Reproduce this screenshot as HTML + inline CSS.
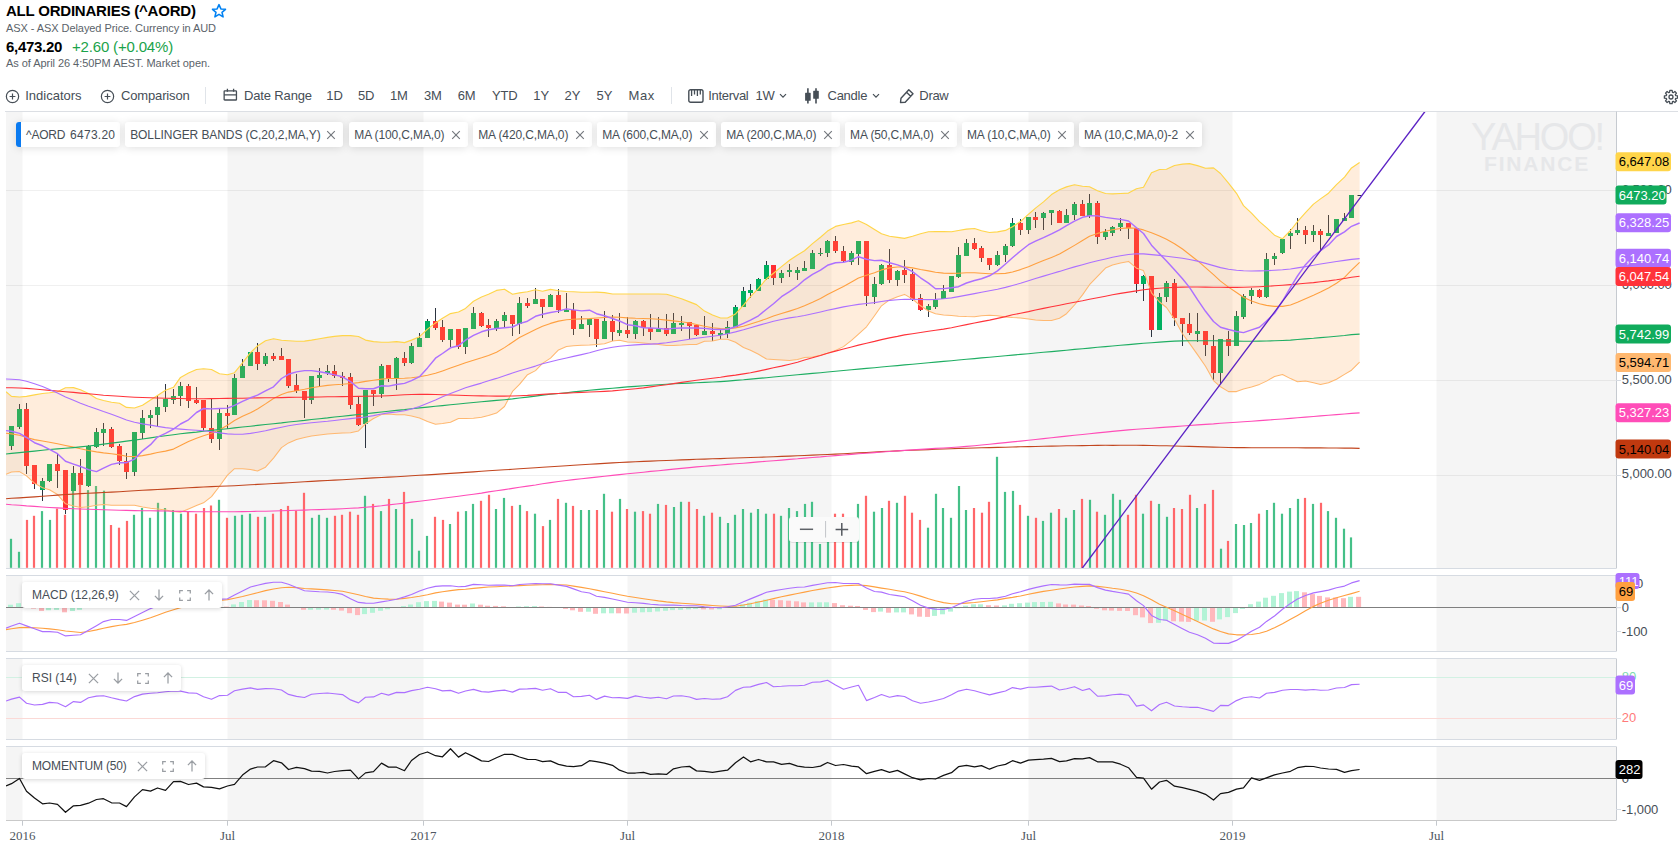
<!DOCTYPE html><html><head><meta charset="utf-8"><title>chart</title><style>
*{box-sizing:border-box}
html,body{margin:0;padding:0;background:#fff}
body{width:1678px;height:868px;position:relative;overflow:hidden;font-family:"Liberation Sans",sans-serif;color:#464e56}
.abs{position:absolute;white-space:nowrap;line-height:1}
.t{font-size:13px;color:#464e56;letter-spacing:-0.15px}
.chip{position:absolute;top:122px;height:25px;background:#fff;border-radius:3px;box-shadow:0 1px 9px rgba(0,0,0,.13);font-size:12px;line-height:26.5px;color:#464e56;white-space:nowrap;padding-left:5px;letter-spacing:-0.13px}
.chip svg{position:absolute;top:9px}
.lbl{position:absolute;left:22px;height:26px;background:#fff;border-radius:3px;box-shadow:0 1px 4px rgba(0,0,0,.16);font-size:12px;line-height:26px;color:#464e56;padding-left:10px;white-space:nowrap}
.lbl svg{position:absolute}
</style></head><body>
<div class="abs" style="left:6px;top:2.5px;font-size:15px;font-weight:bold;color:#000;letter-spacing:-0.21px">ALL ORDINARIES (^AORD)</div>
<svg class="abs" style="left:211px;top:3px" width="16" height="16" viewBox="0 0 16 16"><path d="M8,1.6 L9.9,5.9 L14.5,6.3 L11,9.3 L12.1,13.9 L8,11.4 L3.9,13.9 L5,9.3 L1.5,6.3 L6.1,5.9 Z" fill="none" stroke="#0081f2" stroke-width="1.55" stroke-linejoin="round"/></svg>
<div class="abs" style="left:6px;top:23px;font-size:11px;color:#5b636a;letter-spacing:-0.07px">ASX - ASX Delayed Price. Currency in AUD</div>
<div class="abs" style="left:6px;top:38.6px;font-size:15px;font-weight:bold;color:#000;letter-spacing:-0.3px">6,473.20</div>
<div class="abs" style="left:72px;top:38.6px;font-size:15px;color:#1aa34a;letter-spacing:-0.17px">+2.60 (+0.04%)</div>
<div class="abs" style="left:6px;top:58px;font-size:11px;color:#5b636a;letter-spacing:-0.05px">As of April 26 4:50PM AEST. Market open.</div>
<svg class="abs" style="left:5px;top:88.7px" width="15" height="15" viewBox="0 0 15 15"><circle cx="7.5" cy="7.5" r="6.15" fill="none" stroke="#464e56" stroke-width="1.2"/><path d="M4.6,7.5 H10.4 M7.5,4.6 V10.4" stroke="#464e56" stroke-width="1.2"/></svg>
<div class="abs t" style="left:25.2px;top:88.6px;letter-spacing:0">Indicators</div>
<svg class="abs" style="left:100px;top:88.7px" width="15" height="15" viewBox="0 0 15 15"><circle cx="7.5" cy="7.5" r="6.15" fill="none" stroke="#464e56" stroke-width="1.2"/><path d="M4.6,7.5 H10.4 M7.5,4.6 V10.4" stroke="#464e56" stroke-width="1.2"/></svg>
<div class="abs t" style="left:121px;top:88.6px">Comparison</div>
<div class="abs" style="left:205px;top:87px;width:1px;height:17px;background:#e0e4e9"></div>
<svg class="abs" style="left:223px;top:88px" width="15" height="15" viewBox="0 0 15 15"><rect x="1.15" y="2.8" width="12.3" height="9.2" rx="0.6" fill="none" stroke="#464e56" stroke-width="1.3"/><path d="M1.15,6.8 H13.45 M4.4,0.8 V3.7 M10.6,0.8 V3.7" stroke="#464e56" stroke-width="1.3"/></svg>
<div class="abs t" style="left:244px;top:88.6px">Date Range</div>
<div class="abs t" style="left:326.3px;top:88.6px">1D</div>
<div class="abs t" style="left:358px;top:88.6px">5D</div>
<div class="abs t" style="left:390px;top:88.6px">1M</div>
<div class="abs t" style="left:424px;top:88.6px">3M</div>
<div class="abs t" style="left:457.7px;top:88.6px">6M</div>
<div class="abs t" style="left:492px;top:88.6px">YTD</div>
<div class="abs t" style="left:533.3px;top:88.6px">1Y</div>
<div class="abs t" style="left:564.6px;top:88.6px">2Y</div>
<div class="abs t" style="left:596.6px;top:88.6px">5Y</div>
<div class="abs t" style="left:628.5px;top:88.6px;letter-spacing:0.6px">Max</div>
<div class="abs" style="left:671px;top:87px;width:1px;height:17px;background:#e0e4e9"></div>
<svg class="abs" style="left:688px;top:88.5px" width="16" height="15" viewBox="0 0 16 15"><rect x="0.8" y="0.8" width="14.2" height="12.4" rx="1.8" fill="none" stroke="#464e56" stroke-width="1.4"/><path d="M3.6,1 V6.9 M6.5,1 V5.4 M9.4,1 V6.9 M12.3,1 V5.4" stroke="#464e56" stroke-width="1.3"/></svg>
<div class="abs t" style="left:708.2px;top:88.6px;letter-spacing:-0.3px">Interval</div>
<div class="abs t" style="left:755.5px;top:88.6px">1W</div>
<svg class="abs" style="left:779px;top:93.2px" width="8" height="6" viewBox="0 0 8 6"><path d="M1,1.2 L4,4.2 L7,1.2" fill="none" stroke="#464e56" stroke-width="1.2"/></svg>
<svg class="abs" style="left:805px;top:87px" width="15" height="17" viewBox="0 0 15 17"><path d="M2.9,1.2 V16.6 M11,1.2 V16.6" stroke="#464e56" stroke-width="1.6"/><rect x="0.1" y="5.8" width="5.6" height="8" rx="0.6" fill="#464e56"/><rect x="8.2" y="3.8" width="5.6" height="8" rx="0.6" fill="#464e56"/></svg>
<div class="abs t" style="left:827.5px;top:88.6px;letter-spacing:-0.25px">Candle</div>
<svg class="abs" style="left:871.7px;top:93.2px" width="8" height="6" viewBox="0 0 8 6"><path d="M1,1.2 L4,4.2 L7,1.2" fill="none" stroke="#464e56" stroke-width="1.2"/></svg>
<svg class="abs" style="left:899px;top:88px" width="16" height="16" viewBox="0 0 16 16"><path d="M1.5,14.5 L2,10.2 L9.8,1.8 L14,5.8 L6.2,14.2 Z M7.5,4.3 L11.7,8.3" fill="none" stroke="#464e56" stroke-width="1.4" stroke-linejoin="round"/></svg>
<div class="abs t" style="left:919.3px;top:88.6px;letter-spacing:-0.3px">Draw</div>
<svg class="abs" style="left:1662.9px;top:88.7px" width="16" height="16" viewBox="0 0 16 16"><path d="M6.55,3.32 L6.87,1.40 L9.13,1.40 L9.45,3.32 L10.29,3.67 L11.87,2.53 L13.47,4.13 L12.33,5.71 L12.68,6.55 L14.60,6.87 L14.60,9.13 L12.68,9.45 L12.33,10.29 L13.47,11.87 L11.87,13.47 L10.29,12.33 L9.45,12.68 L9.13,14.60 L6.87,14.60 L6.55,12.68 L5.71,12.33 L4.13,13.47 L2.53,11.87 L3.67,10.29 L3.32,9.45 L1.40,9.13 L1.40,6.87 L3.32,6.55 L3.67,5.71 L2.53,4.13 L4.13,2.53 L5.71,3.67 Z" fill="none" stroke="#464e56" stroke-width="1.3" stroke-linejoin="round"/><circle cx="8" cy="8" r="2" fill="none" stroke="#464e56" stroke-width="1.3"/></svg>
<svg width="1678" height="868" viewBox="0 0 1678 868" style="position:absolute;left:0;top:0">
<defs>
<clipPath id="cm"><rect x="6" y="111.5" width="1610" height="457"/></clipPath>
<clipPath id="c1"><rect x="6" y="575.5" width="1610" height="76"/></clipPath>
<clipPath id="c2"><rect x="6" y="658.5" width="1610" height="81"/></clipPath>
<clipPath id="c3"><rect x="6" y="746.5" width="1610" height="74"/></clipPath>
</defs>
<rect x="6" y="111.5" width="16.5" height="457.0" fill="#f5f5f5"/>
<rect x="227.5" y="111.5" width="196.0" height="457.0" fill="#f5f5f5"/>
<rect x="627.5" y="111.5" width="204.0" height="457.0" fill="#f5f5f5"/>
<rect x="1028.5" y="111.5" width="204.0" height="457.0" fill="#f5f5f5"/>
<rect x="1436.5" y="111.5" width="179.5" height="457.0" fill="#f5f5f5"/>
<rect x="6" y="575.5" width="16.5" height="76.0" fill="#f5f5f5"/>
<rect x="227.5" y="575.5" width="196.0" height="76.0" fill="#f5f5f5"/>
<rect x="627.5" y="575.5" width="204.0" height="76.0" fill="#f5f5f5"/>
<rect x="1028.5" y="575.5" width="204.0" height="76.0" fill="#f5f5f5"/>
<rect x="1436.5" y="575.5" width="179.5" height="76.0" fill="#f5f5f5"/>
<rect x="6" y="658.5" width="16.5" height="81.0" fill="#f5f5f5"/>
<rect x="227.5" y="658.5" width="196.0" height="81.0" fill="#f5f5f5"/>
<rect x="627.5" y="658.5" width="204.0" height="81.0" fill="#f5f5f5"/>
<rect x="1028.5" y="658.5" width="204.0" height="81.0" fill="#f5f5f5"/>
<rect x="1436.5" y="658.5" width="179.5" height="81.0" fill="#f5f5f5"/>
<rect x="6" y="746.5" width="16.5" height="74.0" fill="#f5f5f5"/>
<rect x="227.5" y="746.5" width="196.0" height="74.0" fill="#f5f5f5"/>
<rect x="627.5" y="746.5" width="204.0" height="74.0" fill="#f5f5f5"/>
<rect x="1028.5" y="746.5" width="204.0" height="74.0" fill="#f5f5f5"/>
<rect x="1436.5" y="746.5" width="179.5" height="74.0" fill="#f5f5f5"/>
<line x1="6" x2="1616" y1="190.5" y2="190.5" stroke="#000" stroke-opacity="0.06" stroke-width="1"/>
<line x1="6" x2="1616" y1="285.5" y2="285.5" stroke="#000" stroke-opacity="0.06" stroke-width="1"/>
<line x1="6" x2="1616" y1="380.5" y2="380.5" stroke="#000" stroke-opacity="0.06" stroke-width="1"/>
<line x1="6" x2="1616" y1="475.5" y2="475.5" stroke="#000" stroke-opacity="0.06" stroke-width="1"/>
<g clip-path="url(#cm)">
<rect x="11.0" y="426" width="1" height="24" fill="#2c3440"/>
<rect x="9.0" y="426" width="5" height="20" fill="#00b061"/>
<rect x="19.0" y="404" width="1" height="25" fill="#2c3440"/>
<rect x="17.0" y="409" width="5" height="18" fill="#00b061"/>
<rect x="26.0" y="403" width="1" height="71" fill="#2c3440"/>
<rect x="24.0" y="409" width="5" height="57" fill="#ff2d33"/>
<rect x="34.0" y="465" width="1" height="24" fill="#2c3440"/>
<rect x="32.0" y="465" width="5" height="19" fill="#ff2d33"/>
<rect x="42.0" y="478" width="1" height="23" fill="#2c3440"/>
<rect x="40.0" y="481" width="5" height="9" fill="#00b061"/>
<rect x="49.0" y="464" width="1" height="18" fill="#2c3440"/>
<rect x="47.0" y="464" width="5" height="17" fill="#00b061"/>
<rect x="57.0" y="453" width="1" height="35" fill="#2c3440"/>
<rect x="55.0" y="464" width="5" height="7" fill="#ff2d33"/>
<rect x="65.0" y="470" width="1" height="44" fill="#2c3440"/>
<rect x="63.0" y="470" width="5" height="40" fill="#ff2d33"/>
<rect x="73.0" y="466" width="1" height="43" fill="#2c3440"/>
<rect x="71.0" y="473" width="5" height="18" fill="#00b061"/>
<rect x="80.0" y="459" width="1" height="27" fill="#2c3440"/>
<rect x="78.0" y="473" width="5" height="12" fill="#ff2d33"/>
<rect x="88.0" y="445" width="1" height="42" fill="#2c3440"/>
<rect x="86.0" y="446" width="5" height="40" fill="#00b061"/>
<rect x="96.0" y="428" width="1" height="20" fill="#2c3440"/>
<rect x="94.0" y="432" width="5" height="15" fill="#00b061"/>
<rect x="103.0" y="423" width="1" height="23" fill="#2c3440"/>
<rect x="101.0" y="429" width="5" height="4" fill="#00b061"/>
<rect x="111.0" y="427" width="1" height="21" fill="#2c3440"/>
<rect x="109.0" y="429" width="5" height="18" fill="#ff2d33"/>
<rect x="119.0" y="444" width="1" height="21" fill="#2c3440"/>
<rect x="117.0" y="446" width="5" height="15" fill="#ff2d33"/>
<rect x="126.0" y="453" width="1" height="26" fill="#2c3440"/>
<rect x="124.0" y="461" width="5" height="11" fill="#ff2d33"/>
<rect x="134.0" y="432" width="1" height="44" fill="#2c3440"/>
<rect x="132.0" y="432" width="5" height="40" fill="#00b061"/>
<rect x="142.0" y="410" width="1" height="29" fill="#2c3440"/>
<rect x="140.0" y="418" width="5" height="15" fill="#00b061"/>
<rect x="150.0" y="410" width="1" height="18" fill="#2c3440"/>
<rect x="148.0" y="415" width="5" height="3" fill="#00b061"/>
<rect x="157.0" y="396" width="1" height="30" fill="#2c3440"/>
<rect x="155.0" y="407" width="5" height="8" fill="#00b061"/>
<rect x="165.0" y="384" width="1" height="28" fill="#2c3440"/>
<rect x="163.0" y="399" width="5" height="8" fill="#00b061"/>
<rect x="173.0" y="389" width="1" height="15" fill="#2c3440"/>
<rect x="171.0" y="396" width="5" height="4" fill="#00b061"/>
<rect x="180.0" y="382" width="1" height="24" fill="#2c3440"/>
<rect x="178.0" y="386" width="5" height="10" fill="#00b061"/>
<rect x="188.0" y="384" width="1" height="24" fill="#2c3440"/>
<rect x="186.0" y="386" width="5" height="15" fill="#ff2d33"/>
<rect x="196.0" y="387" width="1" height="17" fill="#2c3440"/>
<rect x="194.0" y="400" width="5" height="3" fill="#ff2d33"/>
<rect x="203.0" y="400" width="1" height="31" fill="#2c3440"/>
<rect x="201.0" y="400" width="5" height="28" fill="#ff2d33"/>
<rect x="211.0" y="398" width="1" height="45" fill="#2c3440"/>
<rect x="209.0" y="428" width="5" height="11" fill="#ff2d33"/>
<rect x="219.0" y="408" width="1" height="42" fill="#2c3440"/>
<rect x="217.0" y="413" width="5" height="26" fill="#00b061"/>
<rect x="227.0" y="405" width="1" height="24" fill="#2c3440"/>
<rect x="225.0" y="413" width="5" height="3" fill="#ff2d33"/>
<rect x="234.0" y="374" width="1" height="41" fill="#2c3440"/>
<rect x="232.0" y="378" width="5" height="37" fill="#00b061"/>
<rect x="242.0" y="359" width="1" height="19" fill="#2c3440"/>
<rect x="240.0" y="366" width="5" height="12" fill="#00b061"/>
<rect x="250.0" y="352" width="1" height="14" fill="#2c3440"/>
<rect x="248.0" y="352" width="5" height="14" fill="#00b061"/>
<rect x="257.0" y="343" width="1" height="27" fill="#2c3440"/>
<rect x="255.0" y="352" width="5" height="12" fill="#ff2d33"/>
<rect x="265.0" y="353" width="1" height="13" fill="#2c3440"/>
<rect x="263.0" y="356" width="5" height="8" fill="#00b061"/>
<rect x="273.0" y="353" width="1" height="8" fill="#2c3440"/>
<rect x="271.0" y="356" width="5" height="3" fill="#ff2d33"/>
<rect x="281.0" y="348" width="1" height="12" fill="#2c3440"/>
<rect x="279.0" y="356" width="5" height="4" fill="#ff2d33"/>
<rect x="288.0" y="359" width="1" height="29" fill="#2c3440"/>
<rect x="286.0" y="359" width="5" height="27" fill="#ff2d33"/>
<rect x="296.0" y="374" width="1" height="19" fill="#2c3440"/>
<rect x="294.0" y="385" width="5" height="6" fill="#ff2d33"/>
<rect x="304.0" y="391" width="1" height="27" fill="#2c3440"/>
<rect x="302.0" y="391" width="5" height="9" fill="#ff2d33"/>
<rect x="311.0" y="376" width="1" height="28" fill="#2c3440"/>
<rect x="309.0" y="376" width="5" height="24" fill="#00b061"/>
<rect x="319.0" y="368" width="1" height="18" fill="#2c3440"/>
<rect x="317.0" y="375" width="5" height="3" fill="#00b061"/>
<rect x="327.0" y="365" width="1" height="10" fill="#2c3440"/>
<rect x="325.0" y="371" width="5" height="2" fill="#00b061"/>
<rect x="334.0" y="365" width="1" height="13" fill="#2c3440"/>
<rect x="332.0" y="371" width="5" height="5" fill="#ff2d33"/>
<rect x="342.0" y="372" width="1" height="14" fill="#2c3440"/>
<rect x="340.0" y="376" width="5" height="2" fill="#ff2d33"/>
<rect x="350.0" y="373" width="1" height="36" fill="#2c3440"/>
<rect x="348.0" y="377" width="5" height="28" fill="#ff2d33"/>
<rect x="358.0" y="396" width="1" height="30" fill="#2c3440"/>
<rect x="356.0" y="404" width="5" height="21" fill="#ff2d33"/>
<rect x="365.0" y="390" width="1" height="58" fill="#2c3440"/>
<rect x="363.0" y="390" width="5" height="34" fill="#00b061"/>
<rect x="373.0" y="390" width="1" height="16" fill="#2c3440"/>
<rect x="371.0" y="390" width="5" height="4" fill="#ff2d33"/>
<rect x="381.0" y="364" width="1" height="34" fill="#2c3440"/>
<rect x="379.0" y="366" width="5" height="28" fill="#00b061"/>
<rect x="388.0" y="365" width="1" height="17" fill="#2c3440"/>
<rect x="386.0" y="365" width="5" height="14" fill="#ff2d33"/>
<rect x="396.0" y="357" width="1" height="33" fill="#2c3440"/>
<rect x="394.0" y="358" width="5" height="21" fill="#00b061"/>
<rect x="404.0" y="352" width="1" height="14" fill="#2c3440"/>
<rect x="402.0" y="358" width="5" height="5" fill="#ff2d33"/>
<rect x="411.0" y="343" width="1" height="21" fill="#2c3440"/>
<rect x="409.0" y="346" width="5" height="17" fill="#00b061"/>
<rect x="419.0" y="333" width="1" height="14" fill="#2c3440"/>
<rect x="417.0" y="338" width="5" height="9" fill="#00b061"/>
<rect x="427.0" y="319" width="1" height="19" fill="#2c3440"/>
<rect x="425.0" y="321" width="5" height="17" fill="#00b061"/>
<rect x="435.0" y="308" width="1" height="22" fill="#2c3440"/>
<rect x="433.0" y="321" width="5" height="7" fill="#ff2d33"/>
<rect x="442.0" y="320" width="1" height="22" fill="#2c3440"/>
<rect x="440.0" y="327" width="5" height="13" fill="#ff2d33"/>
<rect x="450.0" y="329" width="1" height="18" fill="#2c3440"/>
<rect x="448.0" y="329" width="5" height="11" fill="#00b061"/>
<rect x="458.0" y="329" width="1" height="20" fill="#2c3440"/>
<rect x="456.0" y="329" width="5" height="18" fill="#ff2d33"/>
<rect x="465.0" y="328" width="1" height="26" fill="#2c3440"/>
<rect x="463.0" y="328" width="5" height="19" fill="#00b061"/>
<rect x="473.0" y="307" width="1" height="22" fill="#2c3440"/>
<rect x="471.0" y="313" width="5" height="16" fill="#00b061"/>
<rect x="481.0" y="312" width="1" height="15" fill="#2c3440"/>
<rect x="479.0" y="313" width="5" height="13" fill="#ff2d33"/>
<rect x="488.0" y="319" width="1" height="18" fill="#2c3440"/>
<rect x="486.0" y="325" width="5" height="3" fill="#ff2d33"/>
<rect x="496.0" y="319" width="1" height="12" fill="#2c3440"/>
<rect x="494.0" y="321" width="5" height="7" fill="#00b061"/>
<rect x="504.0" y="312" width="1" height="16" fill="#2c3440"/>
<rect x="502.0" y="315" width="5" height="6" fill="#00b061"/>
<rect x="512.0" y="315" width="1" height="21" fill="#2c3440"/>
<rect x="510.0" y="315" width="5" height="9" fill="#ff2d33"/>
<rect x="519.0" y="297" width="1" height="37" fill="#2c3440"/>
<rect x="517.0" y="303" width="5" height="21" fill="#00b061"/>
<rect x="527.0" y="298" width="1" height="10" fill="#2c3440"/>
<rect x="525.0" y="303" width="5" height="3" fill="#ff2d33"/>
<rect x="535.0" y="288" width="1" height="16" fill="#2c3440"/>
<rect x="533.0" y="299" width="5" height="5" fill="#00b061"/>
<rect x="542.0" y="299" width="1" height="19" fill="#2c3440"/>
<rect x="540.0" y="299" width="5" height="8" fill="#ff2d33"/>
<rect x="550.0" y="294" width="1" height="13" fill="#2c3440"/>
<rect x="548.0" y="295" width="5" height="12" fill="#00b061"/>
<rect x="558.0" y="289" width="1" height="24" fill="#2c3440"/>
<rect x="556.0" y="295" width="5" height="15" fill="#ff2d33"/>
<rect x="566.0" y="293" width="1" height="19" fill="#2c3440"/>
<rect x="564.0" y="310" width="5" height="2" fill="#00b061"/>
<rect x="573.0" y="303" width="1" height="32" fill="#2c3440"/>
<rect x="571.0" y="310" width="5" height="19" fill="#ff2d33"/>
<rect x="581.0" y="316" width="1" height="13" fill="#2c3440"/>
<rect x="579.0" y="324" width="5" height="5" fill="#00b061"/>
<rect x="589.0" y="319" width="1" height="18" fill="#2c3440"/>
<rect x="587.0" y="319" width="5" height="6" fill="#00b061"/>
<rect x="596.0" y="319" width="1" height="28" fill="#2c3440"/>
<rect x="594.0" y="319" width="5" height="20" fill="#ff2d33"/>
<rect x="604.0" y="311" width="1" height="28" fill="#2c3440"/>
<rect x="602.0" y="321" width="5" height="18" fill="#00b061"/>
<rect x="612.0" y="315" width="1" height="26" fill="#2c3440"/>
<rect x="610.0" y="321" width="5" height="11" fill="#ff2d33"/>
<rect x="619.0" y="313" width="1" height="23" fill="#2c3440"/>
<rect x="617.0" y="330" width="5" height="3" fill="#00b061"/>
<rect x="627.0" y="317" width="1" height="21" fill="#2c3440"/>
<rect x="625.0" y="330" width="5" height="4" fill="#ff2d33"/>
<rect x="635.0" y="320" width="1" height="19" fill="#2c3440"/>
<rect x="633.0" y="321" width="5" height="13" fill="#00b061"/>
<rect x="643.0" y="320" width="1" height="16" fill="#2c3440"/>
<rect x="641.0" y="321" width="5" height="7" fill="#ff2d33"/>
<rect x="650.0" y="314" width="1" height="26" fill="#2c3440"/>
<rect x="648.0" y="328" width="5" height="4" fill="#ff2d33"/>
<rect x="658.0" y="317" width="1" height="15" fill="#2c3440"/>
<rect x="656.0" y="329" width="5" height="3" fill="#00b061"/>
<rect x="666.0" y="314" width="1" height="22" fill="#2c3440"/>
<rect x="664.0" y="328" width="5" height="6" fill="#ff2d33"/>
<rect x="673.0" y="313" width="1" height="21" fill="#2c3440"/>
<rect x="671.0" y="323" width="5" height="11" fill="#00b061"/>
<rect x="681.0" y="316" width="1" height="15" fill="#2c3440"/>
<rect x="679.0" y="323" width="5" height="2" fill="#00b061"/>
<rect x="689.0" y="322" width="1" height="17" fill="#2c3440"/>
<rect x="687.0" y="322" width="5" height="4" fill="#ff2d33"/>
<rect x="696.0" y="325" width="1" height="11" fill="#2c3440"/>
<rect x="694.0" y="325" width="5" height="10" fill="#ff2d33"/>
<rect x="704.0" y="316" width="1" height="19" fill="#2c3440"/>
<rect x="702.0" y="331" width="5" height="4" fill="#00b061"/>
<rect x="712.0" y="323" width="1" height="18" fill="#2c3440"/>
<rect x="710.0" y="331" width="5" height="3" fill="#ff2d33"/>
<rect x="720.0" y="330" width="1" height="9" fill="#2c3440"/>
<rect x="718.0" y="333" width="5" height="2" fill="#00b061"/>
<rect x="727.0" y="321" width="1" height="17" fill="#2c3440"/>
<rect x="725.0" y="327" width="5" height="7" fill="#00b061"/>
<rect x="735.0" y="305" width="1" height="22" fill="#2c3440"/>
<rect x="733.0" y="307" width="5" height="20" fill="#00b061"/>
<rect x="743.0" y="287" width="1" height="20" fill="#2c3440"/>
<rect x="741.0" y="291" width="5" height="16" fill="#00b061"/>
<rect x="750.0" y="284" width="1" height="14" fill="#2c3440"/>
<rect x="748.0" y="290" width="5" height="3" fill="#00b061"/>
<rect x="758.0" y="278" width="1" height="13" fill="#2c3440"/>
<rect x="756.0" y="279" width="5" height="12" fill="#00b061"/>
<rect x="766.0" y="261" width="1" height="19" fill="#2c3440"/>
<rect x="764.0" y="265" width="5" height="14" fill="#00b061"/>
<rect x="773.0" y="265" width="1" height="20" fill="#2c3440"/>
<rect x="771.0" y="265" width="5" height="13" fill="#ff2d33"/>
<rect x="781.0" y="270" width="1" height="13" fill="#2c3440"/>
<rect x="779.0" y="273" width="5" height="5" fill="#00b061"/>
<rect x="789.0" y="264" width="1" height="13" fill="#2c3440"/>
<rect x="787.0" y="270" width="5" height="2" fill="#00b061"/>
<rect x="797.0" y="267" width="1" height="13" fill="#2c3440"/>
<rect x="795.0" y="270" width="5" height="3" fill="#00b061"/>
<rect x="804.0" y="261" width="1" height="10" fill="#2c3440"/>
<rect x="802.0" y="268" width="5" height="3" fill="#00b061"/>
<rect x="812.0" y="250" width="1" height="19" fill="#2c3440"/>
<rect x="810.0" y="253" width="5" height="16" fill="#00b061"/>
<rect x="820.0" y="248" width="1" height="8" fill="#2c3440"/>
<rect x="818.0" y="253" width="5" height="1" fill="#00b061"/>
<rect x="827.0" y="240" width="1" height="17" fill="#2c3440"/>
<rect x="825.0" y="241" width="5" height="12" fill="#00b061"/>
<rect x="835.0" y="236" width="1" height="17" fill="#2c3440"/>
<rect x="833.0" y="241" width="5" height="10" fill="#ff2d33"/>
<rect x="843.0" y="246" width="1" height="16" fill="#2c3440"/>
<rect x="841.0" y="251" width="5" height="10" fill="#ff2d33"/>
<rect x="851.0" y="251" width="1" height="14" fill="#2c3440"/>
<rect x="849.0" y="253" width="5" height="9" fill="#00b061"/>
<rect x="858.0" y="241" width="1" height="24" fill="#2c3440"/>
<rect x="856.0" y="241" width="5" height="13" fill="#00b061"/>
<rect x="866.0" y="241" width="1" height="65" fill="#2c3440"/>
<rect x="864.0" y="241" width="5" height="55" fill="#ff2d33"/>
<rect x="874.0" y="277" width="1" height="27" fill="#2c3440"/>
<rect x="872.0" y="284" width="5" height="13" fill="#00b061"/>
<rect x="881.0" y="264" width="1" height="21" fill="#2c3440"/>
<rect x="879.0" y="265" width="5" height="19" fill="#00b061"/>
<rect x="889.0" y="249" width="1" height="34" fill="#2c3440"/>
<rect x="887.0" y="265" width="5" height="15" fill="#ff2d33"/>
<rect x="897.0" y="270" width="1" height="16" fill="#2c3440"/>
<rect x="895.0" y="271" width="5" height="9" fill="#00b061"/>
<rect x="904.0" y="260" width="1" height="23" fill="#2c3440"/>
<rect x="902.0" y="270" width="5" height="5" fill="#ff2d33"/>
<rect x="912.0" y="269" width="1" height="32" fill="#2c3440"/>
<rect x="910.0" y="274" width="5" height="25" fill="#ff2d33"/>
<rect x="920.0" y="294" width="1" height="17" fill="#2c3440"/>
<rect x="918.0" y="298" width="5" height="12" fill="#ff2d33"/>
<rect x="928.0" y="304" width="1" height="13" fill="#2c3440"/>
<rect x="926.0" y="306" width="5" height="4" fill="#00b061"/>
<rect x="935.0" y="293" width="1" height="16" fill="#2c3440"/>
<rect x="933.0" y="300" width="5" height="7" fill="#00b061"/>
<rect x="943.0" y="285" width="1" height="14" fill="#2c3440"/>
<rect x="941.0" y="291" width="5" height="8" fill="#00b061"/>
<rect x="951.0" y="276" width="1" height="16" fill="#2c3440"/>
<rect x="949.0" y="276" width="5" height="16" fill="#00b061"/>
<rect x="958.0" y="247" width="1" height="31" fill="#2c3440"/>
<rect x="956.0" y="255" width="5" height="22" fill="#00b061"/>
<rect x="966.0" y="239" width="1" height="17" fill="#2c3440"/>
<rect x="964.0" y="243" width="5" height="13" fill="#00b061"/>
<rect x="974.0" y="238" width="1" height="12" fill="#2c3440"/>
<rect x="972.0" y="243" width="5" height="6" fill="#ff2d33"/>
<rect x="981.0" y="246" width="1" height="16" fill="#2c3440"/>
<rect x="979.0" y="248" width="5" height="10" fill="#ff2d33"/>
<rect x="989.0" y="258" width="1" height="12" fill="#2c3440"/>
<rect x="987.0" y="258" width="5" height="7" fill="#ff2d33"/>
<rect x="997.0" y="251" width="1" height="15" fill="#2c3440"/>
<rect x="995.0" y="255" width="5" height="10" fill="#00b061"/>
<rect x="1005.0" y="244" width="1" height="18" fill="#2c3440"/>
<rect x="1003.0" y="246" width="5" height="9" fill="#00b061"/>
<rect x="1012.0" y="218" width="1" height="29" fill="#2c3440"/>
<rect x="1010.0" y="223" width="5" height="23" fill="#00b061"/>
<rect x="1020.0" y="219" width="1" height="16" fill="#2c3440"/>
<rect x="1018.0" y="223" width="5" height="7" fill="#ff2d33"/>
<rect x="1028.0" y="217" width="1" height="17" fill="#2c3440"/>
<rect x="1026.0" y="217" width="5" height="13" fill="#00b061"/>
<rect x="1035.0" y="212" width="1" height="16" fill="#2c3440"/>
<rect x="1033.0" y="217" width="5" height="3" fill="#ff2d33"/>
<rect x="1043.0" y="212" width="1" height="18" fill="#2c3440"/>
<rect x="1041.0" y="213" width="5" height="5" fill="#00b061"/>
<rect x="1051.0" y="210" width="1" height="15" fill="#2c3440"/>
<rect x="1049.0" y="210" width="5" height="3" fill="#00b061"/>
<rect x="1059.0" y="210" width="1" height="13" fill="#2c3440"/>
<rect x="1057.0" y="211" width="5" height="12" fill="#ff2d33"/>
<rect x="1066.0" y="209" width="1" height="14" fill="#2c3440"/>
<rect x="1064.0" y="215" width="5" height="8" fill="#00b061"/>
<rect x="1074.0" y="202" width="1" height="18" fill="#2c3440"/>
<rect x="1072.0" y="204" width="5" height="11" fill="#00b061"/>
<rect x="1082.0" y="200" width="1" height="16" fill="#2c3440"/>
<rect x="1080.0" y="204" width="5" height="12" fill="#ff2d33"/>
<rect x="1089.0" y="194" width="1" height="24" fill="#2c3440"/>
<rect x="1087.0" y="203" width="5" height="13" fill="#00b061"/>
<rect x="1097.0" y="201" width="1" height="43" fill="#2c3440"/>
<rect x="1095.0" y="203" width="5" height="34" fill="#ff2d33"/>
<rect x="1105.0" y="229" width="1" height="11" fill="#2c3440"/>
<rect x="1103.0" y="232" width="5" height="5" fill="#00b061"/>
<rect x="1112.0" y="226" width="1" height="10" fill="#2c3440"/>
<rect x="1110.0" y="227" width="5" height="6" fill="#00b061"/>
<rect x="1120.0" y="218" width="1" height="13" fill="#2c3440"/>
<rect x="1118.0" y="223" width="5" height="4" fill="#00b061"/>
<rect x="1128.0" y="223" width="1" height="16" fill="#2c3440"/>
<rect x="1126.0" y="223" width="5" height="5" fill="#ff2d33"/>
<rect x="1136.0" y="228" width="1" height="65" fill="#2c3440"/>
<rect x="1134.0" y="228" width="5" height="56" fill="#ff2d33"/>
<rect x="1143.0" y="275" width="1" height="26" fill="#2c3440"/>
<rect x="1141.0" y="276" width="5" height="8" fill="#00b061"/>
<rect x="1151.0" y="276" width="1" height="61" fill="#2c3440"/>
<rect x="1149.0" y="276" width="5" height="54" fill="#ff2d33"/>
<rect x="1159.0" y="293" width="1" height="37" fill="#2c3440"/>
<rect x="1157.0" y="297" width="5" height="33" fill="#00b061"/>
<rect x="1166.0" y="281" width="1" height="21" fill="#2c3440"/>
<rect x="1164.0" y="283" width="5" height="14" fill="#00b061"/>
<rect x="1174.0" y="279" width="1" height="47" fill="#2c3440"/>
<rect x="1172.0" y="283" width="5" height="35" fill="#ff2d33"/>
<rect x="1182.0" y="318" width="1" height="28" fill="#2c3440"/>
<rect x="1180.0" y="318" width="5" height="6" fill="#ff2d33"/>
<rect x="1189.0" y="313" width="1" height="22" fill="#2c3440"/>
<rect x="1187.0" y="324" width="5" height="9" fill="#ff2d33"/>
<rect x="1197.0" y="313" width="1" height="29" fill="#2c3440"/>
<rect x="1195.0" y="331" width="5" height="3" fill="#00b061"/>
<rect x="1205.0" y="331" width="1" height="25" fill="#2c3440"/>
<rect x="1203.0" y="331" width="5" height="14" fill="#ff2d33"/>
<rect x="1213.0" y="335" width="1" height="45" fill="#2c3440"/>
<rect x="1211.0" y="346" width="5" height="27" fill="#ff2d33"/>
<rect x="1220.0" y="339" width="1" height="45" fill="#2c3440"/>
<rect x="1218.0" y="339" width="5" height="34" fill="#00b061"/>
<rect x="1228.0" y="331" width="1" height="25" fill="#2c3440"/>
<rect x="1226.0" y="339" width="5" height="7" fill="#ff2d33"/>
<rect x="1236.0" y="311" width="1" height="35" fill="#2c3440"/>
<rect x="1234.0" y="316" width="5" height="30" fill="#00b061"/>
<rect x="1243.0" y="294" width="1" height="25" fill="#2c3440"/>
<rect x="1241.0" y="296" width="5" height="21" fill="#00b061"/>
<rect x="1251.0" y="288" width="1" height="16" fill="#2c3440"/>
<rect x="1249.0" y="290" width="5" height="6" fill="#00b061"/>
<rect x="1259.0" y="289" width="1" height="9" fill="#2c3440"/>
<rect x="1257.0" y="290" width="5" height="7" fill="#ff2d33"/>
<rect x="1266.0" y="253" width="1" height="45" fill="#2c3440"/>
<rect x="1264.0" y="259" width="5" height="38" fill="#00b061"/>
<rect x="1274.0" y="253" width="1" height="12" fill="#2c3440"/>
<rect x="1272.0" y="256" width="5" height="3" fill="#00b061"/>
<rect x="1282.0" y="238" width="1" height="16" fill="#2c3440"/>
<rect x="1280.0" y="239" width="5" height="14" fill="#00b061"/>
<rect x="1290.0" y="229" width="1" height="20" fill="#2c3440"/>
<rect x="1288.0" y="233" width="5" height="3" fill="#00b061"/>
<rect x="1297.0" y="218" width="1" height="17" fill="#2c3440"/>
<rect x="1295.0" y="230" width="5" height="3" fill="#00b061"/>
<rect x="1305.0" y="226" width="1" height="18" fill="#2c3440"/>
<rect x="1303.0" y="230" width="5" height="5" fill="#ff2d33"/>
<rect x="1313.0" y="225" width="1" height="17" fill="#2c3440"/>
<rect x="1311.0" y="231" width="5" height="4" fill="#00b061"/>
<rect x="1320.0" y="229" width="1" height="21" fill="#2c3440"/>
<rect x="1318.0" y="231" width="5" height="4" fill="#ff2d33"/>
<rect x="1328.0" y="215" width="1" height="21" fill="#2c3440"/>
<rect x="1326.0" y="233" width="5" height="3" fill="#00b061"/>
<rect x="1336.0" y="219" width="1" height="14" fill="#2c3440"/>
<rect x="1334.0" y="219" width="5" height="14" fill="#00b061"/>
<rect x="1344.0" y="213" width="1" height="8" fill="#2c3440"/>
<rect x="1342.0" y="218" width="5" height="3" fill="#00b061"/>
<rect x="1351.0" y="195" width="1" height="23" fill="#2c3440"/>
<rect x="1349.0" y="195" width="5" height="23" fill="#00b061"/>
<rect x="9.90" y="538.8" width="2.2" height="29.0" fill="#45c088"/>
<rect x="17.90" y="551.8" width="2.2" height="16.0" fill="#45c088"/>
<rect x="25.90" y="519.9" width="2.2" height="47.9" fill="#ff676a"/>
<rect x="32.90" y="515.8" width="2.2" height="52.0" fill="#ff676a"/>
<rect x="40.90" y="511.1" width="2.2" height="56.7" fill="#45c088"/>
<rect x="48.90" y="519.9" width="2.2" height="47.9" fill="#45c088"/>
<rect x="55.90" y="508.6" width="2.2" height="59.2" fill="#ff676a"/>
<rect x="63.90" y="514.8" width="2.2" height="53.0" fill="#ff676a"/>
<rect x="71.90" y="490.9" width="2.2" height="76.9" fill="#45c088"/>
<rect x="78.90" y="484.5" width="2.2" height="83.3" fill="#ff676a"/>
<rect x="86.90" y="490.1" width="2.2" height="77.7" fill="#45c088"/>
<rect x="94.90" y="486.0" width="2.2" height="81.8" fill="#45c088"/>
<rect x="102.90" y="490.7" width="2.2" height="77.1" fill="#45c088"/>
<rect x="109.90" y="525.0" width="2.2" height="42.8" fill="#ff676a"/>
<rect x="117.90" y="527.7" width="2.2" height="40.1" fill="#ff676a"/>
<rect x="125.90" y="520.9" width="2.2" height="46.9" fill="#ff676a"/>
<rect x="132.90" y="514.8" width="2.2" height="53.0" fill="#45c088"/>
<rect x="140.90" y="508.0" width="2.2" height="59.8" fill="#45c088"/>
<rect x="148.90" y="517.8" width="2.2" height="50.0" fill="#45c088"/>
<rect x="156.90" y="502.8" width="2.2" height="65.0" fill="#45c088"/>
<rect x="163.90" y="508.0" width="2.2" height="59.8" fill="#45c088"/>
<rect x="171.90" y="510.0" width="2.2" height="57.8" fill="#45c088"/>
<rect x="179.90" y="513.7" width="2.2" height="54.1" fill="#45c088"/>
<rect x="186.90" y="511.3" width="2.2" height="56.5" fill="#ff676a"/>
<rect x="194.90" y="513.7" width="2.2" height="54.1" fill="#ff676a"/>
<rect x="202.90" y="508.0" width="2.2" height="59.8" fill="#ff676a"/>
<rect x="209.90" y="505.5" width="2.2" height="62.3" fill="#ff676a"/>
<rect x="217.90" y="499.8" width="2.2" height="68.0" fill="#45c088"/>
<rect x="225.90" y="517.8" width="2.2" height="50.0" fill="#ff676a"/>
<rect x="233.90" y="515.8" width="2.2" height="52.0" fill="#45c088"/>
<rect x="240.90" y="514.8" width="2.2" height="53.0" fill="#45c088"/>
<rect x="248.90" y="513.7" width="2.2" height="54.1" fill="#45c088"/>
<rect x="256.90" y="516.8" width="2.2" height="51.0" fill="#ff676a"/>
<rect x="263.90" y="516.8" width="2.2" height="51.0" fill="#45c088"/>
<rect x="271.90" y="513.7" width="2.2" height="54.1" fill="#ff676a"/>
<rect x="279.90" y="509.0" width="2.2" height="58.8" fill="#ff676a"/>
<rect x="286.90" y="505.9" width="2.2" height="61.9" fill="#ff676a"/>
<rect x="294.90" y="510.7" width="2.2" height="57.1" fill="#ff676a"/>
<rect x="302.90" y="492.8" width="2.2" height="75.0" fill="#ff676a"/>
<rect x="310.90" y="517.8" width="2.2" height="50.0" fill="#45c088"/>
<rect x="317.90" y="514.8" width="2.2" height="53.0" fill="#45c088"/>
<rect x="325.90" y="517.8" width="2.2" height="50.0" fill="#45c088"/>
<rect x="333.90" y="515.8" width="2.2" height="52.0" fill="#ff676a"/>
<rect x="340.90" y="514.8" width="2.2" height="53.0" fill="#ff676a"/>
<rect x="348.90" y="511.7" width="2.2" height="56.1" fill="#ff676a"/>
<rect x="356.90" y="514.8" width="2.2" height="53.0" fill="#ff676a"/>
<rect x="363.90" y="495.8" width="2.2" height="72.0" fill="#45c088"/>
<rect x="371.90" y="503.9" width="2.2" height="63.9" fill="#ff676a"/>
<rect x="379.90" y="511.1" width="2.2" height="56.7" fill="#45c088"/>
<rect x="387.90" y="498.9" width="2.2" height="68.9" fill="#ff676a"/>
<rect x="394.90" y="509.0" width="2.2" height="58.8" fill="#45c088"/>
<rect x="402.90" y="491.9" width="2.2" height="75.9" fill="#ff676a"/>
<rect x="410.90" y="518.9" width="2.2" height="48.9" fill="#45c088"/>
<rect x="417.90" y="550.7" width="2.2" height="17.1" fill="#45c088"/>
<rect x="425.90" y="535.9" width="2.2" height="31.9" fill="#45c088"/>
<rect x="433.90" y="516.8" width="2.2" height="51.0" fill="#ff676a"/>
<rect x="441.90" y="519.9" width="2.2" height="47.9" fill="#ff676a"/>
<rect x="448.90" y="524.0" width="2.2" height="43.8" fill="#45c088"/>
<rect x="456.90" y="511.7" width="2.2" height="56.1" fill="#ff676a"/>
<rect x="464.90" y="511.1" width="2.2" height="56.7" fill="#45c088"/>
<rect x="471.90" y="503.9" width="2.2" height="63.9" fill="#45c088"/>
<rect x="479.90" y="500.8" width="2.2" height="67.0" fill="#ff676a"/>
<rect x="487.90" y="494.8" width="2.2" height="73.0" fill="#ff676a"/>
<rect x="494.90" y="509.0" width="2.2" height="58.8" fill="#45c088"/>
<rect x="502.90" y="497.9" width="2.2" height="69.9" fill="#45c088"/>
<rect x="510.90" y="505.9" width="2.2" height="61.9" fill="#ff676a"/>
<rect x="518.90" y="504.9" width="2.2" height="62.9" fill="#45c088"/>
<rect x="525.90" y="511.1" width="2.2" height="56.7" fill="#ff676a"/>
<rect x="533.90" y="513.7" width="2.2" height="54.1" fill="#45c088"/>
<rect x="541.90" y="526.1" width="2.2" height="41.7" fill="#ff676a"/>
<rect x="548.90" y="519.9" width="2.2" height="47.9" fill="#45c088"/>
<rect x="556.90" y="498.9" width="2.2" height="68.9" fill="#ff676a"/>
<rect x="564.90" y="502.8" width="2.2" height="65.0" fill="#45c088"/>
<rect x="571.90" y="505.9" width="2.2" height="61.9" fill="#ff676a"/>
<rect x="579.90" y="510.0" width="2.2" height="57.8" fill="#45c088"/>
<rect x="587.90" y="510.0" width="2.2" height="57.8" fill="#45c088"/>
<rect x="595.90" y="510.0" width="2.2" height="57.8" fill="#ff676a"/>
<rect x="602.90" y="493.8" width="2.2" height="74.0" fill="#45c088"/>
<rect x="610.90" y="511.7" width="2.2" height="56.1" fill="#ff676a"/>
<rect x="618.90" y="498.9" width="2.2" height="68.9" fill="#45c088"/>
<rect x="625.90" y="509.0" width="2.2" height="58.8" fill="#ff676a"/>
<rect x="633.90" y="511.7" width="2.2" height="56.1" fill="#45c088"/>
<rect x="641.90" y="511.1" width="2.2" height="56.7" fill="#ff676a"/>
<rect x="648.90" y="513.7" width="2.2" height="54.1" fill="#ff676a"/>
<rect x="656.90" y="503.9" width="2.2" height="63.9" fill="#45c088"/>
<rect x="664.90" y="504.9" width="2.2" height="62.9" fill="#ff676a"/>
<rect x="672.90" y="507.0" width="2.2" height="60.8" fill="#45c088"/>
<rect x="679.90" y="501.8" width="2.2" height="66.0" fill="#45c088"/>
<rect x="687.90" y="501.8" width="2.2" height="66.0" fill="#ff676a"/>
<rect x="695.90" y="509.0" width="2.2" height="58.8" fill="#ff676a"/>
<rect x="702.90" y="515.8" width="2.2" height="52.0" fill="#45c088"/>
<rect x="710.90" y="512.7" width="2.2" height="55.1" fill="#ff676a"/>
<rect x="718.90" y="516.8" width="2.2" height="51.0" fill="#45c088"/>
<rect x="726.90" y="523.0" width="2.2" height="44.8" fill="#45c088"/>
<rect x="733.90" y="514.8" width="2.2" height="53.0" fill="#45c088"/>
<rect x="741.90" y="509.0" width="2.2" height="58.8" fill="#45c088"/>
<rect x="749.90" y="512.7" width="2.2" height="55.1" fill="#45c088"/>
<rect x="756.90" y="509.0" width="2.2" height="58.8" fill="#45c088"/>
<rect x="764.90" y="513.7" width="2.2" height="54.1" fill="#45c088"/>
<rect x="772.90" y="513.7" width="2.2" height="54.1" fill="#ff676a"/>
<rect x="779.90" y="515.8" width="2.2" height="52.0" fill="#45c088"/>
<rect x="787.90" y="508.0" width="2.2" height="59.8" fill="#45c088"/>
<rect x="795.90" y="511.1" width="2.2" height="56.7" fill="#45c088"/>
<rect x="803.90" y="503.9" width="2.2" height="63.9" fill="#45c088"/>
<rect x="810.90" y="501.8" width="2.2" height="66.0" fill="#45c088"/>
<rect x="818.90" y="544.0" width="2.2" height="23.8" fill="#45c088"/>
<rect x="826.90" y="528.1" width="2.2" height="39.7" fill="#45c088"/>
<rect x="833.90" y="513.7" width="2.2" height="54.1" fill="#ff676a"/>
<rect x="841.90" y="513.7" width="2.2" height="54.1" fill="#ff676a"/>
<rect x="849.90" y="530.2" width="2.2" height="37.6" fill="#45c088"/>
<rect x="856.90" y="503.9" width="2.2" height="63.9" fill="#45c088"/>
<rect x="864.90" y="495.8" width="2.2" height="72.0" fill="#ff676a"/>
<rect x="872.90" y="511.7" width="2.2" height="56.1" fill="#45c088"/>
<rect x="880.90" y="508.0" width="2.2" height="59.8" fill="#45c088"/>
<rect x="887.90" y="500.8" width="2.2" height="67.0" fill="#ff676a"/>
<rect x="895.90" y="502.8" width="2.2" height="65.0" fill="#45c088"/>
<rect x="903.90" y="495.8" width="2.2" height="72.0" fill="#ff676a"/>
<rect x="910.90" y="512.7" width="2.2" height="55.1" fill="#ff676a"/>
<rect x="918.90" y="519.9" width="2.2" height="47.9" fill="#ff676a"/>
<rect x="926.90" y="527.7" width="2.2" height="40.1" fill="#45c088"/>
<rect x="934.90" y="493.8" width="2.2" height="74.0" fill="#45c088"/>
<rect x="941.90" y="508.0" width="2.2" height="59.8" fill="#45c088"/>
<rect x="949.90" y="517.8" width="2.2" height="50.0" fill="#45c088"/>
<rect x="957.90" y="486.0" width="2.2" height="81.8" fill="#45c088"/>
<rect x="964.90" y="510.0" width="2.2" height="57.8" fill="#45c088"/>
<rect x="972.90" y="508.0" width="2.2" height="59.8" fill="#ff676a"/>
<rect x="980.90" y="512.7" width="2.2" height="55.1" fill="#ff676a"/>
<rect x="987.90" y="501.8" width="2.2" height="66.0" fill="#ff676a"/>
<rect x="995.90" y="456.8" width="2.2" height="111.0" fill="#45c088"/>
<rect x="1003.90" y="491.9" width="2.2" height="75.9" fill="#45c088"/>
<rect x="1011.90" y="490.9" width="2.2" height="76.9" fill="#45c088"/>
<rect x="1018.90" y="504.9" width="2.2" height="62.9" fill="#ff676a"/>
<rect x="1026.90" y="515.8" width="2.2" height="52.0" fill="#45c088"/>
<rect x="1034.90" y="517.8" width="2.2" height="50.0" fill="#ff676a"/>
<rect x="1041.90" y="520.9" width="2.2" height="46.9" fill="#45c088"/>
<rect x="1049.90" y="512.7" width="2.2" height="55.1" fill="#45c088"/>
<rect x="1057.90" y="509.0" width="2.2" height="58.8" fill="#ff676a"/>
<rect x="1064.90" y="517.8" width="2.2" height="50.0" fill="#45c088"/>
<rect x="1072.90" y="510.0" width="2.2" height="57.8" fill="#45c088"/>
<rect x="1080.90" y="498.9" width="2.2" height="68.9" fill="#ff676a"/>
<rect x="1088.90" y="499.8" width="2.2" height="68.0" fill="#45c088"/>
<rect x="1095.90" y="511.7" width="2.2" height="56.1" fill="#ff676a"/>
<rect x="1103.90" y="514.8" width="2.2" height="53.0" fill="#45c088"/>
<rect x="1111.90" y="493.8" width="2.2" height="74.0" fill="#45c088"/>
<rect x="1118.90" y="499.8" width="2.2" height="68.0" fill="#45c088"/>
<rect x="1126.90" y="514.8" width="2.2" height="53.0" fill="#ff676a"/>
<rect x="1134.90" y="494.8" width="2.2" height="73.0" fill="#ff676a"/>
<rect x="1141.90" y="513.7" width="2.2" height="54.1" fill="#45c088"/>
<rect x="1149.90" y="500.8" width="2.2" height="67.0" fill="#ff676a"/>
<rect x="1157.90" y="503.9" width="2.2" height="63.9" fill="#45c088"/>
<rect x="1165.90" y="516.8" width="2.2" height="51.0" fill="#45c088"/>
<rect x="1172.90" y="508.0" width="2.2" height="59.8" fill="#ff676a"/>
<rect x="1180.90" y="509.0" width="2.2" height="58.8" fill="#ff676a"/>
<rect x="1188.90" y="494.8" width="2.2" height="73.0" fill="#ff676a"/>
<rect x="1195.90" y="508.0" width="2.2" height="59.8" fill="#45c088"/>
<rect x="1203.90" y="503.9" width="2.2" height="63.9" fill="#ff676a"/>
<rect x="1211.90" y="489.9" width="2.2" height="77.9" fill="#ff676a"/>
<rect x="1219.90" y="548.7" width="2.2" height="19.1" fill="#45c088"/>
<rect x="1226.90" y="540.9" width="2.2" height="26.9" fill="#ff676a"/>
<rect x="1234.90" y="524.0" width="2.2" height="43.8" fill="#45c088"/>
<rect x="1242.90" y="525.0" width="2.2" height="42.8" fill="#45c088"/>
<rect x="1249.90" y="523.0" width="2.2" height="44.8" fill="#45c088"/>
<rect x="1257.90" y="513.7" width="2.2" height="54.1" fill="#ff676a"/>
<rect x="1265.90" y="510.0" width="2.2" height="57.8" fill="#45c088"/>
<rect x="1272.90" y="502.8" width="2.2" height="65.0" fill="#45c088"/>
<rect x="1280.90" y="513.7" width="2.2" height="54.1" fill="#45c088"/>
<rect x="1288.90" y="508.0" width="2.2" height="59.8" fill="#45c088"/>
<rect x="1296.90" y="498.9" width="2.2" height="68.9" fill="#45c088"/>
<rect x="1303.90" y="497.9" width="2.2" height="69.9" fill="#ff676a"/>
<rect x="1311.90" y="503.9" width="2.2" height="63.9" fill="#45c088"/>
<rect x="1319.90" y="502.8" width="2.2" height="65.0" fill="#ff676a"/>
<rect x="1326.90" y="511.1" width="2.2" height="56.7" fill="#45c088"/>
<rect x="1334.90" y="517.8" width="2.2" height="50.0" fill="#45c088"/>
<rect x="1342.90" y="528.7" width="2.2" height="39.1" fill="#45c088"/>
<rect x="1349.90" y="537.4" width="2.2" height="30.4" fill="#45c088"/>
<path d="M6.0,391.8 L11.5,396.4 L19.5,397.0 L26.5,396.4 L34.5,394.9 L42.5,393.5 L49.5,392.8 L57.5,391.8 L65.5,387.7 L73.5,387.6 L80.5,389.8 L88.5,393.6 L96.5,398.5 L103.5,400.5 L111.5,402.2 L119.5,403.3 L126.5,407.4 L134.5,408.0 L142.5,405.2 L150.5,400.1 L157.5,395.6 L165.5,390.3 L173.5,387.3 L180.5,377.4 L188.5,373.1 L196.5,369.5 L203.5,368.7 L211.5,369.5 L219.5,373.7 L227.5,374.7 L234.5,372.7 L242.5,362.9 L250.5,352.6 L257.5,346.0 L265.5,340.7 L273.5,338.7 L281.5,340.2 L288.5,340.7 L296.5,341.2 L304.5,341.1 L311.5,340.1 L319.5,338.7 L327.5,337.4 L334.5,336.4 L342.5,335.6 L350.5,335.6 L358.5,336.5 L365.5,340.1 L373.5,341.6 L381.5,342.2 L388.5,342.2 L396.5,341.6 L404.5,342.6 L411.5,340.1 L419.5,336.7 L427.5,329.1 L435.5,322.9 L442.5,318.3 L450.5,313.6 L458.5,312.0 L465.5,308.4 L473.5,301.2 L481.5,297.0 L488.5,294.3 L496.5,290.4 L504.5,289.2 L512.5,294.3 L519.5,292.9 L527.5,291.8 L535.5,289.8 L542.5,291.2 L550.5,289.4 L558.5,290.8 L566.5,291.5 L573.5,291.8 L581.5,292.2 L589.5,292.2 L596.5,292.1 L604.5,292.6 L612.5,294.0 L619.5,294.0 L627.5,294.0 L635.5,294.0 L643.5,294.0 L650.5,294.0 L658.5,294.0 L666.5,294.2 L673.5,296.3 L681.5,298.8 L689.5,301.9 L696.5,304.6 L704.5,311.1 L712.5,315.0 L720.5,318.0 L727.5,318.0 L735.5,313.9 L743.5,305.1 L750.5,296.6 L758.5,288.4 L766.5,278.8 L773.5,273.2 L781.5,266.6 L789.5,260.3 L797.5,254.9 L804.5,250.8 L812.5,243.6 L820.5,237.3 L827.5,231.1 L835.5,226.4 L843.5,224.5 L851.5,222.9 L858.5,220.8 L866.5,224.6 L874.5,229.5 L881.5,233.8 L889.5,236.3 L897.5,237.4 L904.5,238.4 L912.5,236.3 L920.5,233.7 L928.5,231.8 L935.5,231.6 L943.5,231.6 L951.5,231.8 L958.5,230.5 L966.5,229.1 L974.5,228.5 L981.5,230.8 L989.5,232.5 L997.5,231.9 L1005.5,230.4 L1012.5,226.7 L1020.5,221.6 L1028.5,214.2 L1035.5,208.1 L1043.5,201.9 L1051.5,194.6 L1059.5,189.8 L1066.5,186.9 L1074.5,184.8 L1082.5,186.3 L1089.5,186.7 L1097.5,190.8 L1105.5,193.5 L1112.5,193.9 L1120.5,193.5 L1128.5,193.1 L1136.5,188.8 L1143.5,187.2 L1151.5,172.8 L1159.5,169.5 L1166.5,169.3 L1174.5,165.5 L1182.5,164.1 L1189.5,163.6 L1197.5,165.6 L1205.5,168.3 L1213.5,167.9 L1220.5,173.5 L1228.5,183.1 L1236.5,193.3 L1243.5,205.6 L1251.5,213.1 L1259.5,221.6 L1266.5,227.6 L1274.5,235.2 L1282.5,238.7 L1290.5,230.5 L1297.5,221.6 L1305.5,212.7 L1313.5,204.1 L1320.5,198.9 L1328.5,193.2 L1336.5,184.6 L1344.5,177.1 L1351.5,167.9 L1359.6,162.5 L1359.6,362.2 L1351.5,370.2 L1344.5,374.4 L1336.5,379.2 L1328.5,382.8 L1320.5,384.4 L1313.5,382.7 L1305.5,381.1 L1297.5,381.7 L1290.5,378.6 L1282.5,374.5 L1274.5,376.5 L1266.5,381.1 L1259.5,384.4 L1251.5,386.9 L1243.5,389.0 L1236.5,391.6 L1228.5,391.6 L1220.5,386.8 L1213.5,380.6 L1205.5,366.2 L1197.5,354.6 L1189.5,343.4 L1182.5,333.7 L1174.5,319.3 L1166.5,307.5 L1159.5,302.0 L1151.5,292.8 L1143.5,270.6 L1136.5,268.2 L1128.5,261.4 L1120.5,263.0 L1112.5,265.0 L1105.5,268.1 L1097.5,276.4 L1089.5,284.7 L1082.5,294.9 L1074.5,305.0 L1066.5,313.7 L1059.5,318.3 L1051.5,320.4 L1043.5,320.4 L1035.5,320.0 L1028.5,319.0 L1020.5,317.9 L1012.5,317.5 L1005.5,316.9 L997.5,315.8 L989.5,315.2 L981.5,315.7 L974.5,316.8 L966.5,316.6 L958.5,316.2 L951.5,315.5 L943.5,315.1 L935.5,313.7 L928.5,311.0 L920.5,305.8 L912.5,299.0 L904.5,294.4 L897.5,296.7 L889.5,299.9 L881.5,305.8 L874.5,315.7 L866.5,326.8 L858.5,334.2 L851.5,340.4 L843.5,346.6 L835.5,350.4 L827.5,353.3 L820.5,355.2 L812.5,357.0 L804.5,357.5 L797.5,359.4 L789.5,360.6 L781.5,359.9 L773.5,359.5 L766.5,359.0 L758.5,354.3 L750.5,350.2 L743.5,347.5 L735.5,342.3 L727.5,339.2 L720.5,339.2 L712.5,340.9 L704.5,341.3 L696.5,344.4 L689.5,344.4 L681.5,345.0 L673.5,345.4 L666.5,345.4 L658.5,344.4 L650.5,343.8 L643.5,342.9 L635.5,342.3 L627.5,341.9 L619.5,340.3 L612.5,340.9 L604.5,343.7 L596.5,344.4 L589.5,345.1 L581.5,345.3 L573.5,345.7 L566.5,346.6 L558.5,349.9 L550.5,358.1 L542.5,363.4 L535.5,370.6 L527.5,374.7 L519.5,384.4 L512.5,391.4 L504.5,406.5 L496.5,413.1 L488.5,415.6 L481.5,417.2 L473.5,418.2 L465.5,418.4 L458.5,418.6 L450.5,422.3 L442.5,423.6 L435.5,424.2 L427.5,421.6 L419.5,418.1 L411.5,415.9 L404.5,414.7 L396.5,414.7 L388.5,414.1 L381.5,414.6 L373.5,418.5 L365.5,423.8 L358.5,430.9 L350.5,432.8 L342.5,433.0 L334.5,433.4 L327.5,434.0 L319.5,434.9 L311.5,435.9 L304.5,437.5 L296.5,439.6 L288.5,442.9 L281.5,447.6 L273.5,458.1 L265.5,467.2 L257.5,470.9 L250.5,469.6 L242.5,468.7 L234.5,468.7 L227.5,475.1 L219.5,486.2 L211.5,496.6 L203.5,502.8 L196.5,505.6 L188.5,508.9 L180.5,512.2 L173.5,511.6 L165.5,510.0 L157.5,508.9 L150.5,508.3 L142.5,506.9 L134.5,505.2 L126.5,505.2 L119.5,505.2 L111.5,505.2 L103.5,504.4 L96.5,505.2 L88.5,506.8 L80.5,507.5 L73.5,506.0 L65.5,503.8 L57.5,494.5 L49.5,489.8 L42.5,487.7 L34.5,483.1 L26.5,475.9 L19.5,471.6 L11.5,472.0 L6.0,474.3 Z" fill="rgba(255,160,70,0.19)" stroke="none"/>
<path d="M6.0,391.8 L11.5,396.4 L19.5,397.0 L26.5,396.4 L34.5,394.9 L42.5,393.5 L49.5,392.8 L57.5,391.8 L65.5,387.7 L73.5,387.6 L80.5,389.8 L88.5,393.6 L96.5,398.5 L103.5,400.5 L111.5,402.2 L119.5,403.3 L126.5,407.4 L134.5,408.0 L142.5,405.2 L150.5,400.1 L157.5,395.6 L165.5,390.3 L173.5,387.3 L180.5,377.4 L188.5,373.1 L196.5,369.5 L203.5,368.7 L211.5,369.5 L219.5,373.7 L227.5,374.7 L234.5,372.7 L242.5,362.9 L250.5,352.6 L257.5,346.0 L265.5,340.7 L273.5,338.7 L281.5,340.2 L288.5,340.7 L296.5,341.2 L304.5,341.1 L311.5,340.1 L319.5,338.7 L327.5,337.4 L334.5,336.4 L342.5,335.6 L350.5,335.6 L358.5,336.5 L365.5,340.1 L373.5,341.6 L381.5,342.2 L388.5,342.2 L396.5,341.6 L404.5,342.6 L411.5,340.1 L419.5,336.7 L427.5,329.1 L435.5,322.9 L442.5,318.3 L450.5,313.6 L458.5,312.0 L465.5,308.4 L473.5,301.2 L481.5,297.0 L488.5,294.3 L496.5,290.4 L504.5,289.2 L512.5,294.3 L519.5,292.9 L527.5,291.8 L535.5,289.8 L542.5,291.2 L550.5,289.4 L558.5,290.8 L566.5,291.5 L573.5,291.8 L581.5,292.2 L589.5,292.2 L596.5,292.1 L604.5,292.6 L612.5,294.0 L619.5,294.0 L627.5,294.0 L635.5,294.0 L643.5,294.0 L650.5,294.0 L658.5,294.0 L666.5,294.2 L673.5,296.3 L681.5,298.8 L689.5,301.9 L696.5,304.6 L704.5,311.1 L712.5,315.0 L720.5,318.0 L727.5,318.0 L735.5,313.9 L743.5,305.1 L750.5,296.6 L758.5,288.4 L766.5,278.8 L773.5,273.2 L781.5,266.6 L789.5,260.3 L797.5,254.9 L804.5,250.8 L812.5,243.6 L820.5,237.3 L827.5,231.1 L835.5,226.4 L843.5,224.5 L851.5,222.9 L858.5,220.8 L866.5,224.6 L874.5,229.5 L881.5,233.8 L889.5,236.3 L897.5,237.4 L904.5,238.4 L912.5,236.3 L920.5,233.7 L928.5,231.8 L935.5,231.6 L943.5,231.6 L951.5,231.8 L958.5,230.5 L966.5,229.1 L974.5,228.5 L981.5,230.8 L989.5,232.5 L997.5,231.9 L1005.5,230.4 L1012.5,226.7 L1020.5,221.6 L1028.5,214.2 L1035.5,208.1 L1043.5,201.9 L1051.5,194.6 L1059.5,189.8 L1066.5,186.9 L1074.5,184.8 L1082.5,186.3 L1089.5,186.7 L1097.5,190.8 L1105.5,193.5 L1112.5,193.9 L1120.5,193.5 L1128.5,193.1 L1136.5,188.8 L1143.5,187.2 L1151.5,172.8 L1159.5,169.5 L1166.5,169.3 L1174.5,165.5 L1182.5,164.1 L1189.5,163.6 L1197.5,165.6 L1205.5,168.3 L1213.5,167.9 L1220.5,173.5 L1228.5,183.1 L1236.5,193.3 L1243.5,205.6 L1251.5,213.1 L1259.5,221.6 L1266.5,227.6 L1274.5,235.2 L1282.5,238.7 L1290.5,230.5 L1297.5,221.6 L1305.5,212.7 L1313.5,204.1 L1320.5,198.9 L1328.5,193.2 L1336.5,184.6 L1344.5,177.1 L1351.5,167.9 L1359.6,162.5" fill="none" stroke="#ffd54a" stroke-width="1.15" stroke-linejoin="round" stroke-opacity="1"/>
<path d="M6.0,474.3 L11.5,472.0 L19.5,471.6 L26.5,475.9 L34.5,483.1 L42.5,487.7 L49.5,489.8 L57.5,494.5 L65.5,503.8 L73.5,506.0 L80.5,507.5 L88.5,506.8 L96.5,505.2 L103.5,504.4 L111.5,505.2 L119.5,505.2 L126.5,505.2 L134.5,505.2 L142.5,506.9 L150.5,508.3 L157.5,508.9 L165.5,510.0 L173.5,511.6 L180.5,512.2 L188.5,508.9 L196.5,505.6 L203.5,502.8 L211.5,496.6 L219.5,486.2 L227.5,475.1 L234.5,468.7 L242.5,468.7 L250.5,469.6 L257.5,470.9 L265.5,467.2 L273.5,458.1 L281.5,447.6 L288.5,442.9 L296.5,439.6 L304.5,437.5 L311.5,435.9 L319.5,434.9 L327.5,434.0 L334.5,433.4 L342.5,433.0 L350.5,432.8 L358.5,430.9 L365.5,423.8 L373.5,418.5 L381.5,414.6 L388.5,414.1 L396.5,414.7 L404.5,414.7 L411.5,415.9 L419.5,418.1 L427.5,421.6 L435.5,424.2 L442.5,423.6 L450.5,422.3 L458.5,418.6 L465.5,418.4 L473.5,418.2 L481.5,417.2 L488.5,415.6 L496.5,413.1 L504.5,406.5 L512.5,391.4 L519.5,384.4 L527.5,374.7 L535.5,370.6 L542.5,363.4 L550.5,358.1 L558.5,349.9 L566.5,346.6 L573.5,345.7 L581.5,345.3 L589.5,345.1 L596.5,344.4 L604.5,343.7 L612.5,340.9 L619.5,340.3 L627.5,341.9 L635.5,342.3 L643.5,342.9 L650.5,343.8 L658.5,344.4 L666.5,345.4 L673.5,345.4 L681.5,345.0 L689.5,344.4 L696.5,344.4 L704.5,341.3 L712.5,340.9 L720.5,339.2 L727.5,339.2 L735.5,342.3 L743.5,347.5 L750.5,350.2 L758.5,354.3 L766.5,359.0 L773.5,359.5 L781.5,359.9 L789.5,360.6 L797.5,359.4 L804.5,357.5 L812.5,357.0 L820.5,355.2 L827.5,353.3 L835.5,350.4 L843.5,346.6 L851.5,340.4 L858.5,334.2 L866.5,326.8 L874.5,315.7 L881.5,305.8 L889.5,299.9 L897.5,296.7 L904.5,294.4 L912.5,299.0 L920.5,305.8 L928.5,311.0 L935.5,313.7 L943.5,315.1 L951.5,315.5 L958.5,316.2 L966.5,316.6 L974.5,316.8 L981.5,315.7 L989.5,315.2 L997.5,315.8 L1005.5,316.9 L1012.5,317.5 L1020.5,317.9 L1028.5,319.0 L1035.5,320.0 L1043.5,320.4 L1051.5,320.4 L1059.5,318.3 L1066.5,313.7 L1074.5,305.0 L1082.5,294.9 L1089.5,284.7 L1097.5,276.4 L1105.5,268.1 L1112.5,265.0 L1120.5,263.0 L1128.5,261.4 L1136.5,268.2 L1143.5,270.6 L1151.5,292.8 L1159.5,302.0 L1166.5,307.5 L1174.5,319.3 L1182.5,333.7 L1189.5,343.4 L1197.5,354.6 L1205.5,366.2 L1213.5,380.6 L1220.5,386.8 L1228.5,391.6 L1236.5,391.6 L1243.5,389.0 L1251.5,386.9 L1259.5,384.4 L1266.5,381.1 L1274.5,376.5 L1282.5,374.5 L1290.5,378.6 L1297.5,381.7 L1305.5,381.1 L1313.5,382.7 L1320.5,384.4 L1328.5,382.8 L1336.5,379.2 L1344.5,374.4 L1351.5,370.2 L1359.6,362.2" fill="none" stroke="#ffb870" stroke-width="1.05" stroke-linejoin="round" stroke-opacity="1"/>
<path d="M6.0,433.3 L11.5,433.9 L19.5,435.3 L26.5,437.5 L34.5,439.6 L42.5,441.0 L49.5,442.2 L57.5,443.8 L65.5,445.5 L73.5,447.1 L80.5,448.8 L88.5,450.5 L96.5,451.9 L103.5,452.9 L111.5,453.7 L119.5,454.9 L126.5,456.2 L134.5,456.6 L142.5,455.6 L150.5,454.1 L157.5,452.5 L165.5,451.1 L173.5,449.1 L180.5,445.6 L188.5,441.5 L196.5,438.2 L203.5,435.8 L211.5,433.2 L219.5,429.8 L227.5,425.3 L234.5,420.5 L242.5,416.2 L250.5,412.7 L257.5,409.0 L265.5,403.9 L273.5,398.5 L281.5,394.4 L288.5,392.1 L296.5,390.8 L304.5,389.3 L311.5,387.8 L319.5,386.5 L327.5,385.4 L334.5,384.7 L342.5,384.2 L350.5,383.5 L358.5,382.6 L365.5,381.4 L373.5,380.2 L381.5,379.1 L388.5,378.5 L396.5,378.5 L404.5,378.3 L411.5,377.8 L419.5,376.7 L427.5,375.2 L435.5,373.3 L442.5,370.9 L450.5,368.0 L458.5,365.2 L465.5,362.7 L473.5,360.2 L481.5,357.8 L488.5,355.4 L496.5,352.3 L504.5,347.6 L512.5,342.3 L519.5,337.5 L527.5,333.4 L535.5,329.6 L542.5,326.2 L550.5,323.4 L558.5,321.1 L566.5,319.7 L573.5,319.2 L581.5,318.9 L589.5,318.6 L596.5,318.0 L604.5,317.5 L612.5,317.1 L619.5,317.3 L627.5,317.9 L635.5,318.3 L643.5,318.5 L650.5,318.8 L658.5,319.3 L666.5,320.1 L673.5,320.9 L681.5,321.8 L689.5,323.0 L696.5,324.5 L704.5,326.2 L712.5,327.7 L720.5,328.6 L727.5,328.7 L735.5,327.9 L743.5,326.3 L750.5,324.1 L758.5,321.5 L766.5,318.7 L773.5,316.0 L781.5,313.5 L789.5,311.1 L797.5,308.6 L804.5,305.8 L812.5,302.3 L820.5,298.5 L827.5,294.5 L835.5,290.5 L843.5,286.4 L851.5,282.0 L858.5,278.0 L866.5,275.2 L874.5,272.7 L881.5,269.9 L889.5,267.9 L897.5,267.0 L904.5,266.9 L912.5,267.9 L920.5,269.5 L928.5,270.9 L935.5,272.2 L943.5,273.1 L951.5,273.4 L958.5,273.2 L966.5,272.8 L974.5,272.8 L981.5,273.2 L989.5,273.7 L997.5,273.8 L1005.5,273.4 L1012.5,272.0 L1020.5,269.6 L1028.5,266.8 L1035.5,263.8 L1043.5,260.6 L1051.5,257.4 L1059.5,254.1 L1066.5,250.1 L1074.5,245.4 L1082.5,240.5 L1089.5,236.3 L1097.5,233.4 L1105.5,231.2 L1112.5,229.7 L1120.5,228.5 L1128.5,227.9 L1136.5,228.3 L1143.5,229.9 L1151.5,232.7 L1159.5,235.9 L1166.5,239.3 L1174.5,243.7 L1182.5,249.0 L1189.5,254.5 L1197.5,260.7 L1205.5,267.7 L1213.5,274.6 L1220.5,281.1 L1228.5,287.1 L1236.5,292.5 L1243.5,297.3 L1251.5,301.1 L1259.5,303.7 L1266.5,305.4 L1274.5,306.4 L1282.5,306.4 L1290.5,305.0 L1297.5,302.3 L1305.5,298.7 L1313.5,295.3 L1320.5,292.1 L1328.5,288.0 L1336.5,283.2 L1344.5,277.4 L1351.5,270.2 L1359.6,262.4" fill="none" stroke="#ffa040" stroke-width="1.1" stroke-linejoin="round" stroke-opacity="1"/>
<path d="M6.0,498.8 L11.5,498.3 L19.5,497.9 L26.5,497.4 L34.5,496.9 L42.5,496.3 L49.5,495.7 L57.5,495.1 L65.5,494.5 L73.5,494.1 L80.5,493.6 L88.5,493.2 L96.5,492.9 L103.5,492.5 L111.5,492.1 L119.5,491.7 L126.5,491.2 L134.5,490.7 L142.5,490.3 L150.5,489.9 L157.5,489.5 L165.5,489.1 L173.5,488.6 L180.5,488.2 L188.5,487.8 L196.5,487.4 L203.5,487.0 L211.5,486.6 L219.5,486.3 L227.5,486.0 L234.5,485.7 L242.5,485.3 L250.5,484.8 L257.5,484.4 L265.5,484.0 L273.5,483.5 L281.5,483.1 L288.5,482.7 L296.5,482.2 L304.5,481.8 L311.5,481.4 L319.5,480.9 L327.5,480.5 L334.5,480.1 L342.5,479.7 L350.5,479.2 L358.5,478.8 L365.5,478.4 L373.5,477.9 L381.5,477.5 L388.5,477.1 L396.5,476.7 L404.5,476.2 L411.5,475.8 L419.5,475.3 L427.5,474.9 L435.5,474.4 L442.5,473.9 L450.5,473.4 L458.5,472.9 L465.5,472.4 L473.5,471.9 L481.5,471.3 L488.5,470.8 L496.5,470.3 L504.5,469.8 L512.5,469.3 L519.5,468.8 L527.5,468.3 L535.5,467.8 L542.5,467.3 L550.5,466.8 L558.5,466.2 L566.5,465.8 L573.5,465.3 L581.5,464.8 L589.5,464.3 L596.5,463.9 L604.5,463.4 L612.5,462.9 L619.5,462.5 L627.5,462.1 L635.5,461.7 L643.5,461.4 L650.5,461.1 L658.5,460.8 L666.5,460.5 L673.5,460.2 L681.5,459.9 L689.5,459.6 L696.5,459.3 L704.5,459.1 L712.5,458.8 L720.5,458.6 L727.5,458.3 L735.5,458.0 L743.5,457.8 L750.5,457.5 L758.5,457.3 L766.5,457.0 L773.5,456.7 L781.5,456.4 L789.5,456.1 L797.5,455.8 L804.5,455.5 L812.5,455.1 L820.5,454.8 L827.5,454.5 L835.5,454.1 L843.5,453.7 L851.5,453.3 L858.5,452.9 L866.5,452.5 L874.5,452.1 L881.5,451.6 L889.5,451.2 L897.5,450.9 L904.5,450.5 L912.5,450.2 L920.5,449.9 L928.5,449.6 L935.5,449.3 L943.5,449.0 L951.5,448.7 L958.5,448.4 L966.5,448.2 L974.5,448.0 L981.5,447.8 L989.5,447.6 L997.5,447.4 L1005.5,447.2 L1012.5,447.0 L1020.5,446.8 L1028.5,446.6 L1035.5,446.5 L1043.5,446.3 L1051.5,446.1 L1059.5,446.0 L1066.5,445.8 L1074.5,445.7 L1082.5,445.6 L1089.5,445.5 L1097.5,445.4 L1105.5,445.3 L1112.5,445.3 L1120.5,445.2 L1128.5,445.2 L1136.5,445.3 L1143.5,445.4 L1151.5,445.5 L1159.5,445.7 L1166.5,445.8 L1174.5,446.0 L1182.5,446.2 L1189.5,446.4 L1197.5,446.6 L1205.5,446.9 L1213.5,447.1 L1220.5,447.3 L1228.5,447.5 L1236.5,447.6 L1243.5,447.6 L1251.5,447.7 L1259.5,447.7 L1266.5,447.7 L1274.5,447.7 L1282.5,447.7 L1290.5,447.7 L1297.5,447.8 L1305.5,447.8 L1313.5,447.9 L1320.5,447.9 L1328.5,448.0 L1336.5,448.0 L1344.5,448.1 L1351.5,448.1 L1359.6,448.4" fill="none" stroke="#c2461f" stroke-width="1.15" stroke-linejoin="round" stroke-opacity="1"/>
<path d="M6.0,504.3 L11.5,504.8 L19.5,505.3 L26.5,505.9 L34.5,506.4 L42.5,507.0 L49.5,507.5 L57.5,507.9 L65.5,508.4 L73.5,508.7 L80.5,509.0 L88.5,509.3 L96.5,509.5 L103.5,509.8 L111.5,510.0 L119.5,510.2 L126.5,510.4 L134.5,510.6 L142.5,510.7 L150.5,510.8 L157.5,510.9 L165.5,511.0 L173.5,511.2 L180.5,511.4 L188.5,511.6 L196.5,511.7 L203.5,511.7 L211.5,511.7 L219.5,511.7 L227.5,511.7 L234.5,511.7 L242.5,511.6 L250.5,511.5 L257.5,511.3 L265.5,511.2 L273.5,511.0 L281.5,510.8 L288.5,510.5 L296.5,510.3 L304.5,510.1 L311.5,509.8 L319.5,509.6 L327.5,509.3 L334.5,509.1 L342.5,508.7 L350.5,508.3 L358.5,507.9 L365.5,507.3 L373.5,506.6 L381.5,505.8 L388.5,504.9 L396.5,504.0 L404.5,503.1 L411.5,502.1 L419.5,501.2 L427.5,500.3 L435.5,499.3 L442.5,498.3 L450.5,497.3 L458.5,496.3 L465.5,495.3 L473.5,494.2 L481.5,493.1 L488.5,491.9 L496.5,490.8 L504.5,489.6 L512.5,488.4 L519.5,487.3 L527.5,486.1 L535.5,485.0 L542.5,483.8 L550.5,482.6 L558.5,481.5 L566.5,480.5 L573.5,479.6 L581.5,478.8 L589.5,477.9 L596.5,477.1 L604.5,476.3 L612.5,475.4 L619.5,474.6 L627.5,473.8 L635.5,473.0 L643.5,472.2 L650.5,471.4 L658.5,470.7 L666.5,469.9 L673.5,469.1 L681.5,468.4 L689.5,467.6 L696.5,466.9 L704.5,466.3 L712.5,465.6 L720.5,465.0 L727.5,464.4 L735.5,463.8 L743.5,463.2 L750.5,462.6 L758.5,461.9 L766.5,461.3 L773.5,460.7 L781.5,460.1 L789.5,459.4 L797.5,458.8 L804.5,458.1 L812.5,457.5 L820.5,456.9 L827.5,456.2 L835.5,455.6 L843.5,455.0 L851.5,454.4 L858.5,453.8 L866.5,453.2 L874.5,452.6 L881.5,452.0 L889.5,451.5 L897.5,450.9 L904.5,450.4 L912.5,449.9 L920.5,449.4 L928.5,448.9 L935.5,448.4 L943.5,448.0 L951.5,447.5 L958.5,447.0 L966.5,446.4 L974.5,445.7 L981.5,445.0 L989.5,444.2 L997.5,443.4 L1005.5,442.6 L1012.5,441.9 L1020.5,441.1 L1028.5,440.3 L1035.5,439.5 L1043.5,438.6 L1051.5,437.8 L1059.5,436.9 L1066.5,436.1 L1074.5,435.3 L1082.5,434.5 L1089.5,433.7 L1097.5,432.9 L1105.5,432.1 L1112.5,431.4 L1120.5,430.6 L1128.5,429.9 L1136.5,429.3 L1143.5,428.7 L1151.5,428.2 L1159.5,427.6 L1166.5,427.1 L1174.5,426.6 L1182.5,426.0 L1189.5,425.5 L1197.5,424.9 L1205.5,424.4 L1213.5,423.9 L1220.5,423.3 L1228.5,422.8 L1236.5,422.2 L1243.5,421.7 L1251.5,421.2 L1259.5,420.6 L1266.5,420.1 L1274.5,419.5 L1282.5,419.0 L1290.5,418.4 L1297.5,417.8 L1305.5,417.1 L1313.5,416.5 L1320.5,415.9 L1328.5,415.3 L1336.5,414.6 L1344.5,414.0 L1351.5,413.4 L1359.6,412.9" fill="none" stroke="#ff4db8" stroke-width="1.1" stroke-linejoin="round" stroke-opacity="1"/>
<path d="M6.0,454.0 L11.5,453.4 L19.5,452.6 L26.5,451.9 L34.5,451.1 L42.5,450.3 L49.5,449.5 L57.5,448.9 L65.5,448.3 L73.5,447.6 L80.5,446.9 L88.5,446.0 L96.5,445.1 L103.5,444.1 L111.5,443.1 L119.5,442.1 L126.5,441.1 L134.5,440.1 L142.5,439.0 L150.5,437.9 L157.5,436.8 L165.5,435.7 L173.5,434.7 L180.5,433.8 L188.5,432.9 L196.5,432.1 L203.5,431.2 L211.5,430.4 L219.5,429.5 L227.5,428.7 L234.5,427.9 L242.5,427.0 L250.5,426.2 L257.5,425.4 L265.5,424.5 L273.5,423.7 L281.5,422.9 L288.5,422.0 L296.5,421.2 L304.5,420.4 L311.5,419.5 L319.5,418.7 L327.5,417.9 L334.5,417.0 L342.5,416.2 L350.5,415.4 L358.5,414.5 L365.5,413.7 L373.5,412.9 L381.5,412.0 L388.5,411.2 L396.5,410.4 L404.5,409.6 L411.5,408.7 L419.5,407.9 L427.5,407.1 L435.5,406.3 L442.5,405.6 L450.5,404.8 L458.5,404.0 L465.5,403.3 L473.5,402.5 L481.5,401.8 L488.5,401.1 L496.5,400.4 L504.5,399.7 L512.5,398.9 L519.5,398.0 L527.5,397.1 L535.5,396.1 L542.5,395.1 L550.5,394.3 L558.5,393.5 L566.5,392.7 L573.5,391.9 L581.5,391.1 L589.5,390.3 L596.5,389.6 L604.5,388.9 L612.5,388.2 L619.5,387.6 L627.5,386.9 L635.5,386.4 L643.5,385.8 L650.5,385.3 L658.5,384.8 L666.5,384.3 L673.5,383.8 L681.5,383.4 L689.5,383.1 L696.5,382.7 L704.5,382.4 L712.5,382.0 L720.5,381.6 L727.5,381.1 L735.5,380.4 L743.5,379.8 L750.5,379.1 L758.5,378.4 L766.5,377.7 L773.5,377.0 L781.5,376.2 L789.5,375.5 L797.5,374.8 L804.5,374.1 L812.5,373.4 L820.5,372.7 L827.5,372.0 L835.5,371.3 L843.5,370.5 L851.5,369.8 L858.5,369.1 L866.5,368.4 L874.5,367.7 L881.5,367.0 L889.5,366.3 L897.5,365.6 L904.5,364.9 L912.5,364.2 L920.5,363.5 L928.5,362.8 L935.5,362.1 L943.5,361.4 L951.5,360.7 L958.5,360.0 L966.5,359.3 L974.5,358.6 L981.5,357.9 L989.5,357.2 L997.5,356.5 L1005.5,355.8 L1012.5,355.1 L1020.5,354.4 L1028.5,353.7 L1035.5,353.0 L1043.5,352.3 L1051.5,351.6 L1059.5,350.9 L1066.5,350.2 L1074.5,349.4 L1082.5,348.7 L1089.5,348.1 L1097.5,347.3 L1105.5,346.6 L1112.5,346.0 L1120.5,345.3 L1128.5,344.6 L1136.5,343.9 L1143.5,343.3 L1151.5,342.7 L1159.5,342.1 L1166.5,341.6 L1174.5,341.1 L1182.5,340.9 L1189.5,340.7 L1197.5,340.7 L1205.5,340.7 L1213.5,340.8 L1220.5,340.9 L1228.5,341.0 L1236.5,341.1 L1243.5,341.2 L1251.5,341.2 L1259.5,341.1 L1266.5,341.0 L1274.5,340.8 L1282.5,340.5 L1290.5,340.1 L1297.5,339.5 L1305.5,338.9 L1313.5,338.3 L1320.5,337.6 L1328.5,337.0 L1336.5,336.3 L1344.5,335.5 L1351.5,334.6 L1359.6,334.1" fill="none" stroke="#1fae63" stroke-width="1.1" stroke-linejoin="round" stroke-opacity="1"/>
<path d="M6.0,387.7 L11.5,387.8 L19.5,388.0 L26.5,388.4 L34.5,389.0 L42.5,389.7 L49.5,390.4 L57.5,391.0 L65.5,391.7 L73.5,392.4 L80.5,393.1 L88.5,393.8 L96.5,394.5 L103.5,395.2 L111.5,395.8 L119.5,396.3 L126.5,396.8 L134.5,397.2 L142.5,397.5 L150.5,397.8 L157.5,398.0 L165.5,398.2 L173.5,398.4 L180.5,398.5 L188.5,398.7 L196.5,398.8 L203.5,398.7 L211.5,398.6 L219.5,398.5 L227.5,398.4 L234.5,398.3 L242.5,398.2 L250.5,398.0 L257.5,397.9 L265.5,397.8 L273.5,397.7 L281.5,397.6 L288.5,397.4 L296.5,397.3 L304.5,397.2 L311.5,397.1 L319.5,397.0 L327.5,396.8 L334.5,396.7 L342.5,396.6 L350.5,396.5 L358.5,396.4 L365.5,396.2 L373.5,396.1 L381.5,396.0 L388.5,395.7 L396.5,395.3 L404.5,394.8 L411.5,394.5 L419.5,394.4 L427.5,394.4 L435.5,394.5 L442.5,394.8 L450.5,395.0 L458.5,395.3 L465.5,395.5 L473.5,395.7 L481.5,395.9 L488.5,396.0 L496.5,396.1 L504.5,396.1 L512.5,396.0 L519.5,395.7 L527.5,395.4 L535.5,394.9 L542.5,394.4 L550.5,393.9 L558.5,393.5 L566.5,393.1 L573.5,392.7 L581.5,392.4 L589.5,392.0 L596.5,391.8 L604.5,391.4 L612.5,390.9 L619.5,390.3 L627.5,389.5 L635.5,388.7 L643.5,387.9 L650.5,386.9 L658.5,385.8 L666.5,384.8 L673.5,383.6 L681.5,382.4 L689.5,381.2 L696.5,380.2 L704.5,379.2 L712.5,378.2 L720.5,377.2 L727.5,376.1 L735.5,375.1 L743.5,373.9 L750.5,372.7 L758.5,371.1 L766.5,369.4 L773.5,367.8 L781.5,366.1 L789.5,364.2 L797.5,362.2 L804.5,360.0 L812.5,357.7 L820.5,355.5 L827.5,353.3 L835.5,351.1 L843.5,349.0 L851.5,347.0 L858.5,345.1 L866.5,343.2 L874.5,341.4 L881.5,339.6 L889.5,337.9 L897.5,336.4 L904.5,334.9 L912.5,333.7 L920.5,332.5 L928.5,331.3 L935.5,330.2 L943.5,329.1 L951.5,327.8 L958.5,326.2 L966.5,324.6 L974.5,323.0 L981.5,321.6 L989.5,320.1 L997.5,318.4 L1005.5,316.6 L1012.5,314.8 L1020.5,313.2 L1028.5,311.6 L1035.5,310.0 L1043.5,308.4 L1051.5,306.8 L1059.5,305.2 L1066.5,303.7 L1074.5,302.2 L1082.5,300.7 L1089.5,299.2 L1097.5,297.7 L1105.5,296.2 L1112.5,294.8 L1120.5,293.4 L1128.5,292.1 L1136.5,290.9 L1143.5,289.8 L1151.5,288.9 L1159.5,288.3 L1166.5,287.8 L1174.5,287.4 L1182.5,287.1 L1189.5,287.0 L1197.5,287.0 L1205.5,287.1 L1213.5,287.2 L1220.5,287.3 L1228.5,287.4 L1236.5,287.4 L1243.5,287.2 L1251.5,287.0 L1259.5,286.7 L1266.5,286.3 L1274.5,285.8 L1282.5,285.2 L1290.5,284.6 L1297.5,284.0 L1305.5,283.3 L1313.5,282.6 L1320.5,281.8 L1328.5,280.9 L1336.5,279.8 L1344.5,278.5 L1351.5,277.3 L1359.6,276.3" fill="none" stroke="#ff333a" stroke-width="1.1" stroke-linejoin="round" stroke-opacity="1"/>
<path d="M6.0,379.0 L11.5,379.2 L19.5,379.8 L26.5,381.3 L34.5,383.7 L42.5,386.6 L49.5,389.6 L57.5,393.1 L65.5,396.9 L73.5,400.3 L80.5,403.3 L88.5,406.3 L96.5,409.0 L103.5,411.6 L111.5,414.3 L119.5,417.2 L126.5,420.0 L134.5,422.3 L142.5,423.9 L150.5,425.1 L157.5,426.4 L165.5,427.6 L173.5,428.5 L180.5,429.1 L188.5,429.7 L196.5,430.2 L203.5,430.8 L211.5,431.8 L219.5,432.9 L227.5,433.9 L234.5,434.3 L242.5,434.2 L250.5,433.4 L257.5,432.2 L265.5,430.7 L273.5,428.9 L281.5,427.2 L288.5,425.7 L296.5,424.5 L304.5,423.5 L311.5,422.8 L319.5,422.0 L327.5,421.3 L334.5,420.5 L342.5,419.5 L350.5,418.6 L358.5,417.8 L365.5,417.0 L373.5,415.6 L381.5,414.0 L388.5,412.9 L396.5,412.0 L404.5,410.8 L411.5,409.0 L419.5,406.5 L427.5,403.3 L435.5,400.0 L442.5,396.7 L450.5,393.5 L458.5,390.5 L465.5,387.8 L473.5,385.4 L481.5,383.1 L488.5,380.8 L496.5,378.4 L504.5,375.7 L512.5,373.1 L519.5,370.8 L527.5,368.5 L535.5,366.1 L542.5,363.8 L550.5,361.7 L558.5,359.7 L566.5,358.0 L573.5,356.4 L581.5,354.6 L589.5,352.7 L596.5,350.7 L604.5,348.8 L612.5,347.2 L619.5,346.2 L627.5,345.5 L635.5,344.9 L643.5,344.4 L650.5,344.1 L658.5,343.6 L666.5,342.8 L673.5,341.8 L681.5,340.5 L689.5,339.3 L696.5,338.2 L704.5,337.2 L712.5,336.3 L720.5,335.3 L727.5,333.8 L735.5,331.9 L743.5,329.8 L750.5,327.7 L758.5,325.4 L766.5,323.2 L773.5,321.3 L781.5,319.5 L789.5,317.9 L797.5,316.8 L804.5,315.5 L812.5,313.8 L820.5,312.0 L827.5,310.3 L835.5,308.6 L843.5,306.9 L851.5,305.5 L858.5,304.4 L866.5,303.5 L874.5,302.6 L881.5,301.5 L889.5,300.4 L897.5,299.7 L904.5,299.3 L912.5,299.4 L920.5,299.5 L928.5,299.6 L935.5,299.4 L943.5,298.8 L951.5,297.9 L958.5,296.6 L966.5,295.1 L974.5,293.6 L981.5,292.3 L989.5,290.8 L997.5,289.2 L1005.5,287.4 L1012.5,285.5 L1020.5,283.3 L1028.5,280.8 L1035.5,278.5 L1043.5,276.1 L1051.5,273.7 L1059.5,271.4 L1066.5,269.2 L1074.5,266.9 L1082.5,264.7 L1089.5,262.8 L1097.5,260.8 L1105.5,259.0 L1112.5,257.3 L1120.5,255.8 L1128.5,254.5 L1136.5,253.8 L1143.5,253.9 L1151.5,254.6 L1159.5,255.4 L1166.5,256.2 L1174.5,257.2 L1182.5,258.3 L1189.5,259.5 L1197.5,261.1 L1205.5,263.4 L1213.5,265.6 L1220.5,267.6 L1228.5,269.2 L1236.5,270.3 L1243.5,270.8 L1251.5,271.0 L1259.5,270.9 L1266.5,270.7 L1274.5,270.3 L1282.5,269.8 L1290.5,269.0 L1297.5,267.9 L1305.5,266.6 L1313.5,265.3 L1320.5,264.0 L1328.5,262.7 L1336.5,261.5 L1344.5,260.4 L1351.5,259.4 L1359.6,258.6" fill="none" stroke="#ac70ff" stroke-width="1.1" stroke-linejoin="round" stroke-opacity="1"/>
<path d="M6.0,430.6 L11.5,431.2 L19.5,433.4 L26.5,437.5 L34.5,442.7 L42.5,445.8 L49.5,449.3 L57.5,453.7 L65.5,461.3 L73.5,464.1 L80.5,466.5 L88.5,469.6 L96.5,471.6 L103.5,468.1 L111.5,464.4 L119.5,462.7 L126.5,462.7 L134.5,459.2 L142.5,450.8 L150.5,444.7 L157.5,437.1 L165.5,433.3 L173.5,429.1 L180.5,424.0 L188.5,419.8 L196.5,412.5 L203.5,408.5 L211.5,408.9 L219.5,408.5 L227.5,408.1 L234.5,405.4 L242.5,401.3 L250.5,397.8 L257.5,395.1 L265.5,390.9 L273.5,386.8 L281.5,378.5 L288.5,374.3 L296.5,371.9 L304.5,370.6 L311.5,370.6 L319.5,371.8 L327.5,373.3 L334.5,374.9 L342.5,376.8 L350.5,381.6 L358.5,388.3 L365.5,388.8 L373.5,388.8 L381.5,385.7 L388.5,386.1 L396.5,384.5 L404.5,383.4 L411.5,380.6 L419.5,376.7 L427.5,367.9 L435.5,358.2 L442.5,353.5 L450.5,347.8 L458.5,345.7 L465.5,340.1 L473.5,335.4 L481.5,331.8 L488.5,329.8 L496.5,328.5 L504.5,327.7 L512.5,327.0 L519.5,323.6 L527.5,321.2 L535.5,316.3 L542.5,314.2 L550.5,312.5 L558.5,311.1 L566.5,308.9 L573.5,309.9 L581.5,310.9 L589.5,310.2 L596.5,313.7 L604.5,315.8 L612.5,318.5 L619.5,321.0 L627.5,324.7 L635.5,325.7 L643.5,327.8 L650.5,328.0 L658.5,328.4 L666.5,329.2 L673.5,328.4 L681.5,328.0 L689.5,328.0 L696.5,328.0 L704.5,328.4 L712.5,329.3 L720.5,329.5 L727.5,329.2 L735.5,326.8 L743.5,323.3 L750.5,320.1 L758.5,315.8 L766.5,309.2 L773.5,303.7 L781.5,296.7 L789.5,291.7 L797.5,286.0 L804.5,279.8 L812.5,274.3 L820.5,270.1 L827.5,265.3 L835.5,262.7 L843.5,262.2 L851.5,260.2 L858.5,256.7 L866.5,259.2 L874.5,260.6 L881.5,260.2 L889.5,262.7 L897.5,264.9 L904.5,267.4 L912.5,271.6 L920.5,277.8 L928.5,283.1 L935.5,288.8 L943.5,288.6 L951.5,287.7 L958.5,286.7 L966.5,283.0 L974.5,280.5 L981.5,278.8 L989.5,275.8 L997.5,270.9 L1005.5,264.0 L1012.5,257.8 L1020.5,251.0 L1028.5,244.7 L1035.5,241.2 L1043.5,237.7 L1051.5,233.9 L1059.5,229.8 L1066.5,225.6 L1074.5,221.1 L1082.5,217.3 L1089.5,215.7 L1097.5,215.9 L1105.5,217.4 L1112.5,218.4 L1120.5,219.4 L1128.5,221.0 L1136.5,227.8 L1143.5,233.5 L1151.5,245.2 L1159.5,253.7 L1166.5,260.9 L1174.5,269.8 L1182.5,278.7 L1189.5,287.4 L1197.5,299.7 L1205.5,311.3 L1213.5,321.5 L1220.5,327.3 L1228.5,329.5 L1236.5,331.5 L1243.5,332.6 L1251.5,329.9 L1259.5,327.2 L1266.5,321.0 L1274.5,313.3 L1282.5,301.0 L1290.5,287.3 L1297.5,276.0 L1305.5,264.7 L1313.5,256.3 L1320.5,250.7 L1328.5,244.9 L1336.5,236.5 L1344.5,231.9 L1351.5,226.3 L1359.6,223.0" fill="none" stroke="#ac70ff" stroke-width="1.45" stroke-linejoin="round" stroke-opacity="1"/>
<line x1="1357.5" x2="1361.5" y1="195.5" y2="195.5" stroke="#2c3440" stroke-width="1"/>
<line x1="1082" y1="568.5" x2="1425" y2="111.5" stroke="#5a21c4" stroke-width="1.25"/>
</g>
<g clip-path="url(#c1)">
<rect x="8.0" y="604.7" width="5" height="2.8" fill="#b3f3d6"/>
<rect x="16.0" y="603.2" width="5" height="4.3" fill="#b3f3d6"/>
<rect x="23.0" y="606.0" width="5" height="1.5" fill="#ffb8bc"/>
<rect x="31.0" y="607.5" width="5" height="1.1" fill="#ffb8bc"/>
<rect x="39.0" y="607.5" width="5" height="3.4" fill="#ffb8bc"/>
<rect x="46.0" y="607.5" width="5" height="2.7" fill="#b3f3d6"/>
<rect x="54.0" y="607.5" width="5" height="2.4" fill="#b3f3d6"/>
<rect x="62.0" y="607.5" width="5" height="4.8" fill="#ffb8bc"/>
<rect x="70.0" y="607.5" width="5" height="3.5" fill="#b3f3d6"/>
<rect x="77.0" y="607.5" width="5" height="2.3" fill="#b3f3d6"/>
<rect x="85.0" y="606.3" width="5" height="1.2" fill="#b3f3d6"/>
<rect x="93.0" y="603.2" width="5" height="4.3" fill="#b3f3d6"/>
<rect x="100.0" y="600.9" width="5" height="6.6" fill="#b3f3d6"/>
<rect x="108.0" y="600.4" width="5" height="7.1" fill="#b3f3d6"/>
<rect x="116.0" y="601.7" width="5" height="5.8" fill="#ffb8bc"/>
<rect x="123.0" y="603.4" width="5" height="4.1" fill="#ffb8bc"/>
<rect x="131.0" y="601.5" width="5" height="6.0" fill="#b3f3d6"/>
<rect x="139.0" y="599.7" width="5" height="7.8" fill="#b3f3d6"/>
<rect x="147.0" y="598.3" width="5" height="9.2" fill="#b3f3d6"/>
<rect x="154.0" y="598.1" width="5" height="9.4" fill="#b3f3d6"/>
<rect x="162.0" y="598.6" width="5" height="8.9" fill="#ffb8bc"/>
<rect x="170.0" y="599.6" width="5" height="7.9" fill="#ffb8bc"/>
<rect x="177.0" y="600.6" width="5" height="6.9" fill="#ffb8bc"/>
<rect x="185.0" y="601.8" width="5" height="5.7" fill="#ffb8bc"/>
<rect x="193.0" y="603.0" width="5" height="4.5" fill="#ffb8bc"/>
<rect x="200.0" y="604.0" width="5" height="3.5" fill="#ffb8bc"/>
<rect x="208.0" y="605.2" width="5" height="2.3" fill="#ffb8bc"/>
<rect x="216.0" y="606.3" width="5" height="1.2" fill="#ffb8bc"/>
<rect x="224.0" y="606.6" width="5" height="0.9" fill="#ffb8bc"/>
<rect x="231.0" y="604.4" width="5" height="3.1" fill="#b3f3d6"/>
<rect x="239.0" y="602.0" width="5" height="5.5" fill="#b3f3d6"/>
<rect x="247.0" y="600.0" width="5" height="7.5" fill="#b3f3d6"/>
<rect x="254.0" y="600.2" width="5" height="7.3" fill="#ffb8bc"/>
<rect x="262.0" y="600.3" width="5" height="7.2" fill="#ffb8bc"/>
<rect x="270.0" y="600.8" width="5" height="6.7" fill="#ffb8bc"/>
<rect x="278.0" y="602.0" width="5" height="5.5" fill="#ffb8bc"/>
<rect x="285.0" y="604.6" width="5" height="2.9" fill="#ffb8bc"/>
<rect x="301.0" y="607.5" width="5" height="2.3" fill="#ffb8bc"/>
<rect x="308.0" y="607.5" width="5" height="2.3" fill="#b3f3d6"/>
<rect x="316.0" y="607.5" width="5" height="2.2" fill="#b3f3d6"/>
<rect x="324.0" y="607.5" width="5" height="2.1" fill="#b3f3d6"/>
<rect x="331.0" y="607.5" width="5" height="2.3" fill="#ffb8bc"/>
<rect x="339.0" y="607.5" width="5" height="3.1" fill="#ffb8bc"/>
<rect x="347.0" y="607.5" width="5" height="5.7" fill="#ffb8bc"/>
<rect x="355.0" y="607.5" width="5" height="7.6" fill="#ffb8bc"/>
<rect x="362.0" y="607.5" width="5" height="6.6" fill="#b3f3d6"/>
<rect x="370.0" y="607.5" width="5" height="5.3" fill="#b3f3d6"/>
<rect x="378.0" y="607.5" width="5" height="3.3" fill="#b3f3d6"/>
<rect x="385.0" y="607.5" width="5" height="1.8" fill="#b3f3d6"/>
<rect x="401.0" y="606.1" width="5" height="1.4" fill="#b3f3d6"/>
<rect x="408.0" y="604.5" width="5" height="3.0" fill="#b3f3d6"/>
<rect x="416.0" y="602.2" width="5" height="5.3" fill="#b3f3d6"/>
<rect x="424.0" y="601.1" width="5" height="6.4" fill="#b3f3d6"/>
<rect x="432.0" y="600.9" width="5" height="6.6" fill="#b3f3d6"/>
<rect x="439.0" y="601.6" width="5" height="5.9" fill="#ffb8bc"/>
<rect x="447.0" y="602.6" width="5" height="4.9" fill="#ffb8bc"/>
<rect x="455.0" y="604.6" width="5" height="2.9" fill="#ffb8bc"/>
<rect x="462.0" y="604.7" width="5" height="2.8" fill="#ffb8bc"/>
<rect x="470.0" y="603.5" width="5" height="4.0" fill="#b3f3d6"/>
<rect x="478.0" y="604.7" width="5" height="2.8" fill="#ffb8bc"/>
<rect x="485.0" y="605.7" width="5" height="1.8" fill="#ffb8bc"/>
<rect x="493.0" y="605.9" width="5" height="1.6" fill="#ffb8bc"/>
<rect x="501.0" y="606.3" width="5" height="1.2" fill="#ffb8bc"/>
<rect x="516.0" y="606.5" width="5" height="1.0" fill="#b3f3d6"/>
<rect x="524.0" y="606.2" width="5" height="1.3" fill="#b3f3d6"/>
<rect x="532.0" y="606.1" width="5" height="1.4" fill="#b3f3d6"/>
<rect x="539.0" y="606.5" width="5" height="1.0" fill="#ffb8bc"/>
<rect x="547.0" y="606.9" width="5" height="0.6" fill="#ffb8bc"/>
<rect x="555.0" y="607.5" width="5" height="0.4" fill="#ffb8bc"/>
<rect x="563.0" y="607.5" width="5" height="1.4" fill="#ffb8bc"/>
<rect x="570.0" y="607.5" width="5" height="2.8" fill="#ffb8bc"/>
<rect x="578.0" y="607.5" width="5" height="4.3" fill="#ffb8bc"/>
<rect x="586.0" y="607.5" width="5" height="4.2" fill="#b3f3d6"/>
<rect x="593.0" y="607.5" width="5" height="6.3" fill="#ffb8bc"/>
<rect x="601.0" y="607.5" width="5" height="5.8" fill="#b3f3d6"/>
<rect x="609.0" y="607.5" width="5" height="5.8" fill="#b3f3d6"/>
<rect x="616.0" y="607.5" width="5" height="5.8" fill="#ffb8bc"/>
<rect x="624.0" y="607.5" width="5" height="6.0" fill="#ffb8bc"/>
<rect x="632.0" y="607.5" width="5" height="5.2" fill="#b3f3d6"/>
<rect x="640.0" y="607.5" width="5" height="4.8" fill="#b3f3d6"/>
<rect x="647.0" y="607.5" width="5" height="4.6" fill="#b3f3d6"/>
<rect x="655.0" y="607.5" width="5" height="4.0" fill="#b3f3d6"/>
<rect x="663.0" y="607.5" width="5" height="3.3" fill="#b3f3d6"/>
<rect x="670.0" y="607.5" width="5" height="2.6" fill="#b3f3d6"/>
<rect x="678.0" y="607.5" width="5" height="2.4" fill="#b3f3d6"/>
<rect x="686.0" y="607.5" width="5" height="1.9" fill="#b3f3d6"/>
<rect x="693.0" y="607.5" width="5" height="1.5" fill="#b3f3d6"/>
<rect x="701.0" y="607.5" width="5" height="1.9" fill="#ffb8bc"/>
<rect x="709.0" y="607.5" width="5" height="2.0" fill="#ffb8bc"/>
<rect x="717.0" y="607.5" width="5" height="1.8" fill="#b3f3d6"/>
<rect x="724.0" y="607.5" width="5" height="0.5" fill="#b3f3d6"/>
<rect x="732.0" y="606.4" width="5" height="1.1" fill="#b3f3d6"/>
<rect x="740.0" y="604.3" width="5" height="3.2" fill="#b3f3d6"/>
<rect x="747.0" y="602.7" width="5" height="4.8" fill="#b3f3d6"/>
<rect x="755.0" y="601.1" width="5" height="6.4" fill="#b3f3d6"/>
<rect x="763.0" y="599.5" width="5" height="8.0" fill="#b3f3d6"/>
<rect x="770.0" y="599.8" width="5" height="7.7" fill="#ffb8bc"/>
<rect x="778.0" y="600.2" width="5" height="7.3" fill="#ffb8bc"/>
<rect x="786.0" y="600.7" width="5" height="6.8" fill="#ffb8bc"/>
<rect x="794.0" y="601.3" width="5" height="6.2" fill="#ffb8bc"/>
<rect x="801.0" y="602.4" width="5" height="5.1" fill="#ffb8bc"/>
<rect x="809.0" y="602.4" width="5" height="5.1" fill="#b3f3d6"/>
<rect x="817.0" y="602.3" width="5" height="5.2" fill="#b3f3d6"/>
<rect x="824.0" y="602.3" width="5" height="5.2" fill="#b3f3d6"/>
<rect x="832.0" y="603.1" width="5" height="4.4" fill="#ffb8bc"/>
<rect x="840.0" y="605.2" width="5" height="2.3" fill="#ffb8bc"/>
<rect x="848.0" y="605.7" width="5" height="1.8" fill="#ffb8bc"/>
<rect x="855.0" y="606.0" width="5" height="1.5" fill="#ffb8bc"/>
<rect x="863.0" y="607.5" width="5" height="2.4" fill="#ffb8bc"/>
<rect x="871.0" y="607.5" width="5" height="4.6" fill="#ffb8bc"/>
<rect x="878.0" y="607.5" width="5" height="4.1" fill="#b3f3d6"/>
<rect x="886.0" y="607.5" width="5" height="5.2" fill="#ffb8bc"/>
<rect x="894.0" y="607.5" width="5" height="4.9" fill="#b3f3d6"/>
<rect x="901.0" y="607.5" width="5" height="4.9" fill="#b3f3d6"/>
<rect x="909.0" y="607.5" width="5" height="6.9" fill="#ffb8bc"/>
<rect x="917.0" y="607.5" width="5" height="9.2" fill="#ffb8bc"/>
<rect x="925.0" y="607.5" width="5" height="9.4" fill="#ffb8bc"/>
<rect x="932.0" y="607.5" width="5" height="8.4" fill="#b3f3d6"/>
<rect x="940.0" y="607.5" width="5" height="6.8" fill="#b3f3d6"/>
<rect x="948.0" y="607.5" width="5" height="4.1" fill="#b3f3d6"/>
<rect x="955.0" y="607.5" width="5" height="0.8" fill="#b3f3d6"/>
<rect x="963.0" y="605.7" width="5" height="1.8" fill="#b3f3d6"/>
<rect x="971.0" y="604.3" width="5" height="3.2" fill="#b3f3d6"/>
<rect x="978.0" y="604.3" width="5" height="3.2" fill="#b3f3d6"/>
<rect x="986.0" y="605.2" width="5" height="2.3" fill="#ffb8bc"/>
<rect x="994.0" y="605.5" width="5" height="2.0" fill="#ffb8bc"/>
<rect x="1002.0" y="605.4" width="5" height="2.1" fill="#b3f3d6"/>
<rect x="1009.0" y="603.8" width="5" height="3.7" fill="#b3f3d6"/>
<rect x="1017.0" y="603.2" width="5" height="4.3" fill="#b3f3d6"/>
<rect x="1025.0" y="602.6" width="5" height="4.9" fill="#b3f3d6"/>
<rect x="1032.0" y="602.1" width="5" height="5.4" fill="#b3f3d6"/>
<rect x="1040.0" y="602.0" width="5" height="5.5" fill="#b3f3d6"/>
<rect x="1048.0" y="601.8" width="5" height="5.7" fill="#b3f3d6"/>
<rect x="1056.0" y="603.4" width="5" height="4.1" fill="#ffb8bc"/>
<rect x="1063.0" y="604.5" width="5" height="3.0" fill="#ffb8bc"/>
<rect x="1071.0" y="604.6" width="5" height="2.9" fill="#ffb8bc"/>
<rect x="1079.0" y="605.5" width="5" height="2.0" fill="#ffb8bc"/>
<rect x="1086.0" y="606.0" width="5" height="1.5" fill="#ffb8bc"/>
<rect x="1094.0" y="607.5" width="5" height="1.3" fill="#ffb8bc"/>
<rect x="1102.0" y="607.5" width="5" height="2.8" fill="#ffb8bc"/>
<rect x="1109.0" y="607.5" width="5" height="3.1" fill="#ffb8bc"/>
<rect x="1117.0" y="607.5" width="5" height="3.4" fill="#ffb8bc"/>
<rect x="1125.0" y="607.5" width="5" height="3.5" fill="#ffb8bc"/>
<rect x="1133.0" y="607.5" width="5" height="7.7" fill="#ffb8bc"/>
<rect x="1140.0" y="607.5" width="5" height="9.9" fill="#ffb8bc"/>
<rect x="1148.0" y="607.5" width="5" height="15.6" fill="#ffb8bc"/>
<rect x="1156.0" y="607.5" width="5" height="15.3" fill="#b3f3d6"/>
<rect x="1163.0" y="607.5" width="5" height="13.1" fill="#b3f3d6"/>
<rect x="1171.0" y="607.5" width="5" height="13.8" fill="#ffb8bc"/>
<rect x="1179.0" y="607.5" width="5" height="14.1" fill="#ffb8bc"/>
<rect x="1186.0" y="607.5" width="5" height="14.4" fill="#ffb8bc"/>
<rect x="1194.0" y="607.5" width="5" height="13.3" fill="#b3f3d6"/>
<rect x="1202.0" y="607.5" width="5" height="13.0" fill="#b3f3d6"/>
<rect x="1210.0" y="607.5" width="5" height="14.3" fill="#ffb8bc"/>
<rect x="1217.0" y="607.5" width="5" height="11.9" fill="#b3f3d6"/>
<rect x="1225.0" y="607.5" width="5" height="9.6" fill="#b3f3d6"/>
<rect x="1233.0" y="607.5" width="5" height="5.6" fill="#b3f3d6"/>
<rect x="1240.0" y="607.5" width="5" height="1.4" fill="#b3f3d6"/>
<rect x="1248.0" y="604.2" width="5" height="3.3" fill="#b3f3d6"/>
<rect x="1256.0" y="601.6" width="5" height="5.9" fill="#b3f3d6"/>
<rect x="1263.0" y="597.7" width="5" height="9.8" fill="#b3f3d6"/>
<rect x="1271.0" y="595.8" width="5" height="11.7" fill="#b3f3d6"/>
<rect x="1279.0" y="593.1" width="5" height="14.4" fill="#b3f3d6"/>
<rect x="1287.0" y="591.6" width="5" height="15.9" fill="#b3f3d6"/>
<rect x="1294.0" y="591.1" width="5" height="16.4" fill="#b3f3d6"/>
<rect x="1302.0" y="592.3" width="5" height="15.2" fill="#ffb8bc"/>
<rect x="1310.0" y="594.1" width="5" height="13.4" fill="#ffb8bc"/>
<rect x="1317.0" y="595.9" width="5" height="11.6" fill="#ffb8bc"/>
<rect x="1325.0" y="597.4" width="5" height="10.1" fill="#ffb8bc"/>
<rect x="1333.0" y="597.5" width="5" height="10.0" fill="#ffb8bc"/>
<rect x="1341.0" y="598.2" width="5" height="9.3" fill="#ffb8bc"/>
<rect x="1348.0" y="596.8" width="5" height="10.7" fill="#b3f3d6"/>
<rect x="1356.1" y="596.8" width="5" height="10.7" fill="#ffb8bc"/>
<line x1="6" x2="1616" y1="607.5" y2="607.5" stroke="#7f7f7f" stroke-width="1.15"/>
<path d="M6.0,629.6 L11.5,628.8 L19.5,627.6 L26.5,627.4 L34.5,627.7 L42.5,628.2 L49.5,628.9 L57.5,629.8 L65.5,631.0 L73.5,631.8 L80.5,632.5 L88.5,631.5 L96.5,629.9 L103.5,628.2 L111.5,626.6 L119.5,625.3 L126.5,624.4 L134.5,622.5 L142.5,620.2 L150.5,617.8 L157.5,615.2 L165.5,612.3 L173.5,609.7 L180.5,607.6 L188.5,605.9 L196.5,604.2 L203.5,602.8 L211.5,601.7 L219.5,600.5 L227.5,599.6 L234.5,598.2 L242.5,596.5 L250.5,594.5 L257.5,592.7 L265.5,590.6 L273.5,589.0 L281.5,587.7 L288.5,587.2 L296.5,587.6 L304.5,588.5 L311.5,588.9 L319.5,589.4 L327.5,589.9 L334.5,590.5 L342.5,591.3 L350.5,593.0 L358.5,594.8 L365.5,596.5 L373.5,598.1 L381.5,598.7 L388.5,599.1 L396.5,599.2 L404.5,598.4 L411.5,597.5 L419.5,596.2 L427.5,594.7 L435.5,592.9 L442.5,591.8 L450.5,590.6 L458.5,589.6 L465.5,589.3 L473.5,588.4 L481.5,587.6 L488.5,587.0 L496.5,586.7 L504.5,586.3 L512.5,585.9 L519.5,585.6 L527.5,585.3 L535.5,584.9 L542.5,584.7 L550.5,584.4 L558.5,584.7 L566.5,585.0 L573.5,586.1 L581.5,587.4 L589.5,588.8 L596.5,590.1 L604.5,591.7 L612.5,593.3 L619.5,594.7 L627.5,596.3 L635.5,597.5 L643.5,598.7 L650.5,599.7 L658.5,600.9 L666.5,601.9 L673.5,602.6 L681.5,603.2 L689.5,603.8 L696.5,604.3 L704.5,604.9 L712.5,605.5 L720.5,606.0 L727.5,606.3 L735.5,606.2 L743.5,605.0 L750.5,603.7 L758.5,602.0 L766.5,600.3 L773.5,598.6 L781.5,596.7 L789.5,595.1 L797.5,593.5 L804.5,592.1 L812.5,590.5 L820.5,589.1 L827.5,588.0 L835.5,586.9 L843.5,585.8 L851.5,585.4 L858.5,585.0 L866.5,585.6 L874.5,586.9 L881.5,588.1 L889.5,589.3 L897.5,590.7 L904.5,591.8 L912.5,593.8 L920.5,596.1 L928.5,598.7 L935.5,600.7 L943.5,602.6 L951.5,603.7 L958.5,603.7 L966.5,603.1 L974.5,602.5 L981.5,601.7 L989.5,600.8 L997.5,599.9 L1005.5,598.4 L1012.5,597.4 L1020.5,596.0 L1028.5,594.2 L1035.5,592.9 L1043.5,591.4 L1051.5,590.2 L1059.5,589.0 L1066.5,588.0 L1074.5,587.0 L1082.5,586.4 L1089.5,585.9 L1097.5,586.4 L1105.5,587.2 L1112.5,588.3 L1120.5,589.2 L1128.5,590.7 L1136.5,593.0 L1143.5,595.7 L1151.5,599.8 L1159.5,604.2 L1166.5,607.2 L1174.5,610.7 L1182.5,614.6 L1189.5,617.8 L1197.5,621.4 L1205.5,625.2 L1213.5,628.9 L1220.5,631.5 L1228.5,633.9 L1236.5,634.8 L1243.5,634.8 L1251.5,634.5 L1259.5,633.3 L1266.5,631.2 L1274.5,627.7 L1282.5,623.7 L1290.5,619.3 L1297.5,615.4 L1305.5,610.8 L1313.5,606.4 L1320.5,603.3 L1328.5,600.2 L1336.5,597.8 L1344.5,595.5 L1351.5,593.6 L1359.6,591.3" fill="none" stroke="#ffa040" stroke-width="1.15" stroke-linejoin="round"/>
<path d="M6.0,628.2 L11.5,626.0 L19.5,623.3 L26.5,625.9 L34.5,628.8 L42.5,631.6 L49.5,631.6 L57.5,632.2 L65.5,635.9 L73.5,635.3 L80.5,634.8 L88.5,630.3 L96.5,625.7 L103.5,621.6 L111.5,619.5 L119.5,619.5 L126.5,620.4 L134.5,616.5 L142.5,612.5 L150.5,608.6 L157.5,605.8 L165.5,603.4 L173.5,601.8 L180.5,600.7 L188.5,600.2 L196.5,599.7 L203.5,599.4 L211.5,599.4 L219.5,599.4 L227.5,598.8 L234.5,595.1 L242.5,591.0 L250.5,587.0 L257.5,585.3 L265.5,583.4 L273.5,582.3 L281.5,582.2 L288.5,584.3 L296.5,587.5 L304.5,590.8 L311.5,591.2 L319.5,591.7 L327.5,592.0 L334.5,592.8 L342.5,594.4 L350.5,598.7 L358.5,602.4 L365.5,603.1 L373.5,603.3 L381.5,601.9 L388.5,600.8 L396.5,599.3 L404.5,596.9 L411.5,594.5 L419.5,591.0 L427.5,588.2 L435.5,586.4 L442.5,585.9 L450.5,585.7 L458.5,586.7 L465.5,586.4 L473.5,584.4 L481.5,584.8 L488.5,585.2 L496.5,585.1 L504.5,585.1 L512.5,585.7 L519.5,584.5 L527.5,584.0 L535.5,583.5 L542.5,583.7 L550.5,583.8 L558.5,585.1 L566.5,586.4 L573.5,588.9 L581.5,591.7 L589.5,593.0 L596.5,596.3 L604.5,597.4 L612.5,599.0 L619.5,600.5 L627.5,602.3 L635.5,602.7 L643.5,603.4 L650.5,604.3 L658.5,604.9 L666.5,605.1 L673.5,605.1 L681.5,605.5 L689.5,605.7 L696.5,605.7 L704.5,606.7 L712.5,607.5 L720.5,607.8 L727.5,606.8 L735.5,605.2 L743.5,601.8 L750.5,598.9 L758.5,595.6 L766.5,592.2 L773.5,590.9 L781.5,589.5 L789.5,588.3 L797.5,587.2 L804.5,587.0 L812.5,585.4 L820.5,584.0 L827.5,582.8 L835.5,582.5 L843.5,583.5 L851.5,583.5 L858.5,583.5 L866.5,588.0 L874.5,591.5 L881.5,592.1 L889.5,594.5 L897.5,595.6 L904.5,596.7 L912.5,600.7 L920.5,605.3 L928.5,608.1 L935.5,609.1 L943.5,609.4 L951.5,607.8 L958.5,604.4 L966.5,601.3 L974.5,599.3 L981.5,598.5 L989.5,598.5 L997.5,597.9 L1005.5,596.3 L1012.5,593.7 L1020.5,591.7 L1028.5,589.4 L1035.5,587.6 L1043.5,585.9 L1051.5,584.5 L1059.5,584.9 L1066.5,585.0 L1074.5,584.1 L1082.5,584.4 L1089.5,584.4 L1097.5,587.6 L1105.5,590.1 L1112.5,591.4 L1120.5,592.7 L1128.5,594.1 L1136.5,600.8 L1143.5,605.6 L1151.5,615.4 L1159.5,619.5 L1166.5,620.3 L1174.5,624.5 L1182.5,628.7 L1189.5,632.2 L1197.5,634.7 L1205.5,638.2 L1213.5,643.1 L1220.5,643.4 L1228.5,643.4 L1236.5,640.4 L1243.5,636.2 L1251.5,631.2 L1259.5,627.3 L1266.5,621.4 L1274.5,616.0 L1282.5,609.3 L1290.5,603.4 L1297.5,599.0 L1305.5,595.5 L1313.5,592.9 L1320.5,591.6 L1328.5,590.1 L1336.5,587.8 L1344.5,586.1 L1351.5,582.9 L1359.6,580.6" fill="none" stroke="#ac70ff" stroke-width="1.15" stroke-linejoin="round"/>
</g>
<g clip-path="url(#c2)">
<line x1="6" x2="1616" y1="677.5" y2="677.5" stroke="#d2f1e3" stroke-width="1"/>
<line x1="6" x2="1616" y1="718.5" y2="718.5" stroke="#fbd9d6" stroke-width="1"/>
<path d="M6.0,701.0 L11.5,699.1 L19.5,697.1 L26.5,703.2 L34.5,705.0 L42.5,704.4 L49.5,702.4 L57.5,703.0 L65.5,706.7 L73.5,701.6 L80.5,702.4 L88.5,697.7 L96.5,696.1 L103.5,695.8 L111.5,697.8 L119.5,699.6 L126.5,701.0 L134.5,696.6 L142.5,694.1 L150.5,693.3 L157.5,692.7 L165.5,691.7 L173.5,691.0 L180.5,691.1 L188.5,692.9 L196.5,693.3 L203.5,696.8 L211.5,699.2 L219.5,695.6 L227.5,695.2 L234.5,690.8 L242.5,689.1 L250.5,687.9 L257.5,689.4 L265.5,688.6 L273.5,688.8 L281.5,690.0 L288.5,694.4 L296.5,696.4 L304.5,697.5 L311.5,694.3 L319.5,693.5 L327.5,693.0 L334.5,693.8 L342.5,694.6 L350.5,699.9 L358.5,702.9 L365.5,697.3 L373.5,696.9 L381.5,693.3 L388.5,695.1 L396.5,692.4 L404.5,692.6 L411.5,690.6 L419.5,689.3 L427.5,687.3 L435.5,688.8 L442.5,690.9 L450.5,690.4 L458.5,693.3 L465.5,691.0 L473.5,689.4 L481.5,691.6 L488.5,692.1 L496.5,690.9 L504.5,690.1 L512.5,692.1 L519.5,689.1 L527.5,688.9 L535.5,688.4 L542.5,690.2 L550.5,688.7 L558.5,692.4 L566.5,692.4 L573.5,696.7 L581.5,696.4 L589.5,695.3 L596.5,699.4 L604.5,696.1 L612.5,697.8 L619.5,697.6 L627.5,698.4 L635.5,695.9 L643.5,697.3 L650.5,698.1 L658.5,697.3 L666.5,698.7 L673.5,696.0 L681.5,695.8 L689.5,697.0 L696.5,699.4 L704.5,698.5 L712.5,699.3 L720.5,698.9 L727.5,696.8 L735.5,690.4 L743.5,687.2 L750.5,686.9 L758.5,684.4 L766.5,682.5 L773.5,686.7 L781.5,686.3 L789.5,685.7 L797.5,685.7 L804.5,685.2 L812.5,682.3 L820.5,681.9 L827.5,680.3 L835.5,685.0 L843.5,689.3 L851.5,687.0 L858.5,685.3 L866.5,700.6 L874.5,697.5 L881.5,694.5 L889.5,697.2 L897.5,695.6 L904.5,696.5 L912.5,700.8 L920.5,703.2 L928.5,702.0 L935.5,700.5 L943.5,698.5 L951.5,694.8 L958.5,691.1 L966.5,689.3 L974.5,690.8 L981.5,692.8 L989.5,694.9 L997.5,692.9 L1005.5,691.0 L1012.5,687.6 L1020.5,689.1 L1028.5,687.3 L1035.5,687.2 L1043.5,686.6 L1051.5,686.1 L1059.5,690.0 L1066.5,688.8 L1074.5,686.7 L1082.5,690.5 L1089.5,688.6 L1097.5,696.2 L1105.5,695.9 L1112.5,694.8 L1120.5,694.1 L1128.5,695.2 L1136.5,706.1 L1143.5,704.9 L1151.5,710.8 L1159.5,704.5 L1166.5,702.3 L1174.5,706.0 L1182.5,706.8 L1189.5,707.3 L1197.5,707.3 L1205.5,709.3 L1213.5,711.4 L1220.5,705.4 L1228.5,705.6 L1236.5,700.6 L1243.5,697.7 L1251.5,696.7 L1259.5,698.0 L1266.5,693.3 L1274.5,692.4 L1282.5,690.3 L1290.5,689.5 L1297.5,689.5 L1305.5,690.1 L1313.5,689.5 L1320.5,690.3 L1328.5,690.0 L1336.5,688.0 L1344.5,687.5 L1351.5,684.6 L1359.6,684.3" fill="none" stroke="#ac70ff" stroke-width="1.15" stroke-linejoin="round"/>
</g>
<g clip-path="url(#c3)">
<line x1="6" x2="1616" y1="778.5" y2="778.5" stroke="#7f7f7f" stroke-width="1.15"/>
<path d="M6.0,786.0 L11.5,783.7 L19.5,778.5 L26.5,791.2 L34.5,798.0 L42.5,803.8 L49.5,803.0 L57.5,804.4 L65.5,812.3 L73.5,805.8 L80.5,805.3 L88.5,803.2 L96.5,799.5 L103.5,798.7 L111.5,802.8 L119.5,803.0 L126.5,806.6 L134.5,796.9 L142.5,789.6 L150.5,791.1 L157.5,788.0 L165.5,790.3 L173.5,781.6 L180.5,781.4 L188.5,784.5 L196.5,783.1 L203.5,786.9 L211.5,787.4 L219.5,788.8 L227.5,786.0 L234.5,784.3 L242.5,775.1 L250.5,769.1 L257.5,767.0 L265.5,766.8 L273.5,760.7 L281.5,762.8 L288.5,769.5 L296.5,767.3 L304.5,768.7 L311.5,771.2 L319.5,771.3 L327.5,773.0 L334.5,771.5 L342.5,770.7 L350.5,770.2 L358.5,778.9 L365.5,772.9 L373.5,771.6 L381.5,763.1 L388.5,767.1 L396.5,767.2 L404.5,770.7 L411.5,760.5 L419.5,754.5 L427.5,752.0 L435.5,755.7 L442.5,756.8 L450.5,748.7 L458.5,757.1 L465.5,752.7 L473.5,756.6 L481.5,760.9 L488.5,761.5 L496.5,757.8 L504.5,754.3 L512.5,754.3 L519.5,757.0 L527.5,759.4 L535.5,759.5 L542.5,761.6 L550.5,760.9 L558.5,764.4 L566.5,766.1 L573.5,766.6 L581.5,765.7 L589.5,760.7 L596.5,761.7 L604.5,763.2 L612.5,765.3 L619.5,770.2 L627.5,773.0 L635.5,773.0 L643.5,772.4 L650.5,774.3 L658.5,773.9 L666.5,774.4 L673.5,768.8 L681.5,767.0 L689.5,766.4 L696.5,770.9 L704.5,771.3 L712.5,772.4 L720.5,771.2 L727.5,770.2 L735.5,762.7 L743.5,756.9 L750.5,761.8 L758.5,759.5 L766.5,761.8 L773.5,761.8 L781.5,764.3 L789.5,763.3 L797.5,766.2 L804.5,767.2 L812.5,767.5 L820.5,766.1 L827.5,762.5 L835.5,765.5 L843.5,764.5 L851.5,766.2 L858.5,766.9 L866.5,773.7 L874.5,771.4 L881.5,769.6 L889.5,772.3 L897.5,770.4 L904.5,773.9 L912.5,777.7 L920.5,779.8 L928.5,778.5 L935.5,779.0 L943.5,775.4 L951.5,772.7 L958.5,766.7 L966.5,765.3 L974.5,766.9 L981.5,765.6 L989.5,769.2 L997.5,766.0 L1005.5,764.4 L1012.5,760.7 L1020.5,763.1 L1028.5,760.2 L1035.5,759.6 L1043.5,759.2 L1051.5,758.4 L1059.5,761.7 L1066.5,760.8 L1074.5,758.7 L1082.5,758.9 L1089.5,757.6 L1097.5,761.8 L1105.5,761.8 L1112.5,761.8 L1120.5,764.2 L1128.5,767.7 L1136.5,777.3 L1143.5,778.1 L1151.5,789.2 L1159.5,782.0 L1166.5,780.3 L1174.5,786.2 L1182.5,787.7 L1189.5,789.3 L1197.5,791.3 L1205.5,794.3 L1213.5,800.0 L1220.5,793.6 L1228.5,792.3 L1236.5,789.1 L1243.5,787.8 L1251.5,777.9 L1259.5,780.4 L1266.5,777.8 L1274.5,774.8 L1282.5,773.0 L1290.5,771.3 L1297.5,767.7 L1305.5,766.4 L1313.5,766.5 L1320.5,768.0 L1328.5,769.0 L1336.5,769.4 L1344.5,772.3 L1351.5,770.7 L1359.6,769.5" fill="none" stroke="#111" stroke-width="1.25" stroke-linejoin="round"/>
</g>
<line x1="5" x2="1678" y1="111.5" y2="111.5" stroke="#dcdfe4"/>
<line x1="6" x2="1616" y1="568.5" y2="568.5" stroke="#d6dbe2"/>
<line x1="1616.5" x2="1616.5" y1="111.5" y2="568.5" stroke="#c6cad0"/>
<line x1="6" x2="1616" y1="575.5" y2="575.5" stroke="#d6dbe2"/>
<line x1="6" x2="1616" y1="651.5" y2="651.5" stroke="#d6dbe2"/>
<line x1="1616.5" x2="1616.5" y1="575.5" y2="651.5" stroke="#c6cad0"/>
<line x1="6" x2="1616" y1="658.5" y2="658.5" stroke="#d6dbe2"/>
<line x1="6" x2="1616" y1="739.5" y2="739.5" stroke="#d6dbe2"/>
<line x1="1616.5" x2="1616.5" y1="658.5" y2="739.5" stroke="#c6cad0"/>
<line x1="6" x2="1616" y1="746.5" y2="746.5" stroke="#d6dbe2"/>
<line x1="6" x2="1616" y1="820.5" y2="820.5" stroke="#d6dbe2"/>
<line x1="1616.5" x2="1616.5" y1="746.5" y2="820.5" stroke="#c6cad0"/>
<line x1="6" x2="1616" y1="820.5" y2="820.5" stroke="#c9c9c9"/>
<line x1="22.5" x2="22.5" y1="820.5" y2="825.7" stroke="#c4c8cd"/>
<text x="22.5" y="839.5" text-anchor="middle" font-family="Liberation Serif, serif" font-size="13" fill="#4f5762">2016</text>
<line x1="227.5" x2="227.5" y1="820.5" y2="825.7" stroke="#c4c8cd"/>
<text x="227.5" y="839.5" text-anchor="middle" font-family="Liberation Serif, serif" font-size="13" fill="#4f5762">Jul</text>
<line x1="423.5" x2="423.5" y1="820.5" y2="825.7" stroke="#c4c8cd"/>
<text x="423.5" y="839.5" text-anchor="middle" font-family="Liberation Serif, serif" font-size="13" fill="#4f5762">2017</text>
<line x1="627.5" x2="627.5" y1="820.5" y2="825.7" stroke="#c4c8cd"/>
<text x="627.5" y="839.5" text-anchor="middle" font-family="Liberation Serif, serif" font-size="13" fill="#4f5762">Jul</text>
<line x1="831.5" x2="831.5" y1="820.5" y2="825.7" stroke="#c4c8cd"/>
<text x="831.5" y="839.5" text-anchor="middle" font-family="Liberation Serif, serif" font-size="13" fill="#4f5762">2018</text>
<line x1="1028.5" x2="1028.5" y1="820.5" y2="825.7" stroke="#c4c8cd"/>
<text x="1028.5" y="839.5" text-anchor="middle" font-family="Liberation Serif, serif" font-size="13" fill="#4f5762">Jul</text>
<line x1="1232.5" x2="1232.5" y1="820.5" y2="825.7" stroke="#c4c8cd"/>
<text x="1232.5" y="839.5" text-anchor="middle" font-family="Liberation Serif, serif" font-size="13" fill="#4f5762">2019</text>
<line x1="1436.5" x2="1436.5" y1="820.5" y2="825.7" stroke="#c4c8cd"/>
<text x="1436.5" y="839.5" text-anchor="middle" font-family="Liberation Serif, serif" font-size="13" fill="#4f5762">Jul</text>
<line x1="1616" x2="1621" y1="190.5" y2="190.5" stroke="#d6dbe2"/>
<text x="1621.8" y="193.85" font-family="Liberation Sans, sans-serif" font-size="13" fill="#464e56" letter-spacing="-0.08">6,500.00</text>
<line x1="1616" x2="1621" y1="285.5" y2="285.5" stroke="#d6dbe2"/>
<text x="1621.8" y="288.69999999999993" font-family="Liberation Sans, sans-serif" font-size="13" fill="#464e56" letter-spacing="-0.08">6,000.00</text>
<line x1="1616" x2="1621" y1="380.5" y2="380.5" stroke="#d6dbe2"/>
<text x="1621.8" y="383.54999999999995" font-family="Liberation Sans, sans-serif" font-size="13" fill="#464e56" letter-spacing="-0.08">5,500.00</text>
<line x1="1616" x2="1621" y1="475.5" y2="475.5" stroke="#d6dbe2"/>
<text x="1621.8" y="478.4" font-family="Liberation Sans, sans-serif" font-size="13" fill="#464e56" letter-spacing="-0.08">5,000.00</text>
<line x1="1616" x2="1621" y1="607.7" y2="607.7" stroke="#d6dbe2"/>
<text x="1621.8" y="612.1" font-family="Liberation Sans, sans-serif" font-size="13" fill="#464e56" letter-spacing="-0.08">0</text>
<line x1="1616" x2="1621" y1="631.5" y2="631.5" stroke="#d6dbe2"/>
<text x="1621.8" y="635.9" font-family="Liberation Sans, sans-serif" font-size="13" fill="#464e56" letter-spacing="-0.08">-100</text>
<line x1="1616" x2="1621" y1="584" y2="584" stroke="#d6dbe2"/>
<text x="1621.8" y="588.4" font-family="Liberation Sans, sans-serif" font-size="13" fill="#464e56" letter-spacing="-0.08">100</text>
<line x1="1616" x2="1621" y1="677.5" y2="677.5" stroke="#d6dbe2"/>
<text x="1621.8" y="680.5" font-family="Liberation Sans, sans-serif" font-size="13" fill="#7ddcae" letter-spacing="-0.08">80</text>
<line x1="1616" x2="1621" y1="718.5" y2="718.5" stroke="#d6dbe2"/>
<text x="1621.8" y="721.5" font-family="Liberation Sans, sans-serif" font-size="13" fill="#ff7a7a" letter-spacing="-0.08">20</text>
<line x1="1616" x2="1621" y1="778.5" y2="778.5" stroke="#d6dbe2"/>
<text x="1621.8" y="782.9" font-family="Liberation Sans, sans-serif" font-size="13" fill="#464e56" letter-spacing="-0.08">0</text>
<line x1="1616" x2="1621" y1="809.5" y2="809.5" stroke="#d6dbe2"/>
<text x="1621.8" y="813.9" font-family="Liberation Sans, sans-serif" font-size="13" fill="#464e56" letter-spacing="-0.08">-1,000</text>
<rect x="1615.5" y="152.3" width="55.5" height="19" rx="3" fill="#ffd54a"/>
<text x="1618.7" y="166.4" font-family="Liberation Sans, sans-serif" font-size="13" fill="#000">6,647.08</text>
<rect x="1615.5" y="248.8" width="55.5" height="19" rx="3" fill="#ac70ff"/>
<text x="1618.7" y="262.9" font-family="Liberation Sans, sans-serif" font-size="13" fill="#fff">6,140.74</text>
<rect x="1615.5" y="267.0" width="55.5" height="19" rx="3" fill="#ff333a"/>
<text x="1618.7" y="281.1" font-family="Liberation Sans, sans-serif" font-size="13" fill="#fff">6,047.54</text>
<rect x="1615.5" y="213.3" width="55.5" height="19" rx="3" fill="#ac70ff"/>
<text x="1618.7" y="227.4" font-family="Liberation Sans, sans-serif" font-size="13" fill="#fff">6,328.25</text>
<rect x="1615.5" y="185.5" width="51" height="19" rx="3" fill="#10ab5c"/>
<text x="1618.7" y="199.6" font-family="Liberation Sans, sans-serif" font-size="13" fill="#fff">6473.20</text>
<rect x="1615.5" y="324.5" width="55.5" height="19" rx="3" fill="#10ab5c"/>
<text x="1618.7" y="338.6" font-family="Liberation Sans, sans-serif" font-size="13" fill="#fff">5,742.99</text>
<rect x="1615.5" y="353.0" width="55.5" height="19" rx="3" fill="#ffb870"/>
<text x="1618.7" y="367.1" font-family="Liberation Sans, sans-serif" font-size="13" fill="#000">5,594.71</text>
<rect x="1615.5" y="403.2" width="55.5" height="19" rx="3" fill="#ff4db8"/>
<text x="1618.7" y="417.3" font-family="Liberation Sans, sans-serif" font-size="13" fill="#fff">5,327.23</text>
<rect x="1615.5" y="439.5" width="55.5" height="19" rx="3" fill="#c0390f"/>
<text x="1618.7" y="453.6" font-family="Liberation Sans, sans-serif" font-size="13" fill="#000">5,140.04</text>
<rect x="1615.5" y="573.0" width="24" height="16" rx="3" fill="#ac70ff"/>
<text x="1618.7" y="585.6" font-family="Liberation Sans, sans-serif" font-size="13" fill="#fff">111</text>
<rect x="1615.5" y="582.0" width="19.5" height="19" rx="3" fill="#ffa040"/>
<text x="1618.7" y="596.1" font-family="Liberation Sans, sans-serif" font-size="13" fill="#000">69</text>
<rect x="1615.5" y="675.5" width="19.5" height="19" rx="3" fill="#ac70ff"/>
<text x="1618.7" y="689.6" font-family="Liberation Sans, sans-serif" font-size="13" fill="#fff">69</text>
<rect x="1615.5" y="760.0" width="27" height="19" rx="3" fill="#000"/>
<text x="1618.7" y="774.1" font-family="Liberation Sans, sans-serif" font-size="13" fill="#fff">282</text>
</svg>
<div class="abs" style="left:1470px;top:117.6px;width:134px;text-align:center;font-size:38px;color:#e6e7e9;letter-spacing:-2.2px;transform:scaleY(1.0);font-weight:normal">YAHOO!</div>
<div class="abs" style="left:1474px;top:153px;width:126px;text-align:center;font-size:21px;font-weight:bold;color:#e6e7e9;letter-spacing:1.8px">FINANCE</div>
<div class="chip" style="left:16px;width:104px;padding-left:10px"><div style="position:absolute;left:0;top:0;width:5px;height:25px;background:#0a7af0;border-radius:3px 0 0 3px"></div><span style="letter-spacing:-0.2px">^AORD</span><span style="margin-left:4.8px;letter-spacing:0.25px">6473.20</span></div>
<div class="chip" style="left:125.2px;width:218.2px;letter-spacing:-0.08px">BOLLINGER BANDS (C,20,2,MA,Y)<svg style="left:201.2px;top:8px" width="10" height="10" viewBox="0 0 10 10"><path d="M1.2,1.2 L8.8,8.8 M8.8,1.2 L1.2,8.8" stroke="#74787e" stroke-width="1.15" fill="none"/></svg></div>
<div class="chip" style="left:349.3px;width:118.4px">MA (100,C,MA,0)<svg style="left:101.4px;top:8px" width="10" height="10" viewBox="0 0 10 10"><path d="M1.2,1.2 L8.8,8.8 M8.8,1.2 L1.2,8.8" stroke="#74787e" stroke-width="1.15" fill="none"/></svg></div>
<div class="chip" style="left:473.2px;width:118.4px">MA (420,C,MA,0)<svg style="left:101.4px;top:8px" width="10" height="10" viewBox="0 0 10 10"><path d="M1.2,1.2 L8.8,8.8 M8.8,1.2 L1.2,8.8" stroke="#74787e" stroke-width="1.15" fill="none"/></svg></div>
<div class="chip" style="left:597.2px;width:118.4px">MA (600,C,MA,0)<svg style="left:101.4px;top:8px" width="10" height="10" viewBox="0 0 10 10"><path d="M1.2,1.2 L8.8,8.8 M8.8,1.2 L1.2,8.8" stroke="#74787e" stroke-width="1.15" fill="none"/></svg></div>
<div class="chip" style="left:721.2px;width:118.4px">MA (200,C,MA,0)<svg style="left:101.4px;top:8px" width="10" height="10" viewBox="0 0 10 10"><path d="M1.2,1.2 L8.8,8.8 M8.8,1.2 L1.2,8.8" stroke="#74787e" stroke-width="1.15" fill="none"/></svg></div>
<div class="chip" style="left:845.1px;width:111.5px">MA (50,C,MA,0)<svg style="left:94.5px;top:8px" width="10" height="10" viewBox="0 0 10 10"><path d="M1.2,1.2 L8.8,8.8 M8.8,1.2 L1.2,8.8" stroke="#74787e" stroke-width="1.15" fill="none"/></svg></div>
<div class="chip" style="left:962px;width:111.5px">MA (10,C,MA,0)<svg style="left:94.5px;top:8px" width="10" height="10" viewBox="0 0 10 10"><path d="M1.2,1.2 L8.8,8.8 M8.8,1.2 L1.2,8.8" stroke="#74787e" stroke-width="1.15" fill="none"/></svg></div>
<div class="chip" style="left:1079px;width:123px">MA (10,C,MA,0)-2<svg style="left:106px;top:8px" width="10" height="10" viewBox="0 0 10 10"><path d="M1.2,1.2 L8.8,8.8 M8.8,1.2 L1.2,8.8" stroke="#74787e" stroke-width="1.15" fill="none"/></svg></div>
<div class="lbl" style="top:582px;width:200px">MACD (12,26,9)<svg style="left:107.3px;top:7.800000000000001px" width="11" height="11" viewBox="0 0 11 11"><path d="M0.9,0.9 L10.1,10.1 M10.1,0.9 L0.9,10.1" stroke="#9a9ea3" stroke-width="1.25" fill="none"/></svg><svg style="left:132.1px;top:7.300000000000001px" width="10" height="12" viewBox="0 0 10 12"><path d="M5,0.4 V11 M0.9,6.9 L5,11 L9.1,6.9" stroke="#9a9ea3" stroke-width="1.25" fill="none"/></svg><svg style="left:157px;top:7.800000000000001px" width="12" height="11" viewBox="0 0 12 11"><path d="M0.7,3.4 V0.7 H3.9 M8.1,0.7 H11.3 V3.4 M11.3,7.6 V10.3 H8.1 M3.9,10.3 H0.7 V7.6" stroke="#9a9ea3" stroke-width="1.25" fill="none"/></svg><svg style="left:182.3px;top:7.300000000000001px" width="10" height="12" viewBox="0 0 10 12"><path d="M5,11.6 V1 M0.9,5.1 L5,1 L9.1,5.1" stroke="#9a9ea3" stroke-width="1.25" fill="none"/></svg></div>
<div class="lbl" style="top:665px;width:159px">RSI (14)<svg style="left:66.1px;top:7.800000000000001px" width="11" height="11" viewBox="0 0 11 11"><path d="M0.9,0.9 L10.1,10.1 M10.1,0.9 L0.9,10.1" stroke="#9a9ea3" stroke-width="1.25" fill="none"/></svg><svg style="left:91px;top:7.300000000000001px" width="10" height="12" viewBox="0 0 10 12"><path d="M5,0.4 V11 M0.9,6.9 L5,11 L9.1,6.9" stroke="#9a9ea3" stroke-width="1.25" fill="none"/></svg><svg style="left:115.4px;top:7.800000000000001px" width="12" height="11" viewBox="0 0 12 11"><path d="M0.7,3.4 V0.7 H3.9 M8.1,0.7 H11.3 V3.4 M11.3,7.6 V10.3 H8.1 M3.9,10.3 H0.7 V7.6" stroke="#9a9ea3" stroke-width="1.25" fill="none"/></svg><svg style="left:140.9px;top:7.300000000000001px" width="10" height="12" viewBox="0 0 10 12"><path d="M5,11.6 V1 M0.9,5.1 L5,1 L9.1,5.1" stroke="#9a9ea3" stroke-width="1.25" fill="none"/></svg></div>
<div class="lbl" style="top:753px;width:183px;letter-spacing:-0.15px">MOMENTUM (50)<svg style="left:115.0px;top:7.800000000000001px" width="11" height="11" viewBox="0 0 11 11"><path d="M0.9,0.9 L10.1,10.1 M10.1,0.9 L0.9,10.1" stroke="#9a9ea3" stroke-width="1.25" fill="none"/></svg><svg style="left:139.6px;top:7.800000000000001px" width="12" height="11" viewBox="0 0 12 11"><path d="M0.7,3.4 V0.7 H3.9 M8.1,0.7 H11.3 V3.4 M11.3,7.6 V10.3 H8.1 M3.9,10.3 H0.7 V7.6" stroke="#9a9ea3" stroke-width="1.25" fill="none"/></svg><svg style="left:165px;top:7.300000000000001px" width="10" height="12" viewBox="0 0 10 12"><path d="M5,11.6 V1 M0.9,5.1 L5,1 L9.1,5.1" stroke="#9a9ea3" stroke-width="1.25" fill="none"/></svg></div>
<div class="abs" style="left:788.9px;top:517.1px;width:70.2px;height:24.9px;background:#fafafa;border-radius:3px;box-shadow:0 0.5px 0.5px rgba(0,0,0,.18)"></div>
<svg class="abs" style="left:788.9px;top:517.1px" width="70.2" height="24.9" viewBox="0 0 70.2 24.9"><path d="M10.9,12.3 H24.1" stroke="#5f6368" stroke-width="1.5"/><path d="M36.6,4 V20.6" stroke="#c3c5c9" stroke-width="1"/><path d="M46.6,12.4 H59.2 M52.8,6.1 V18.8" stroke="#55595f" stroke-width="1.5"/></svg>
</body></html>
